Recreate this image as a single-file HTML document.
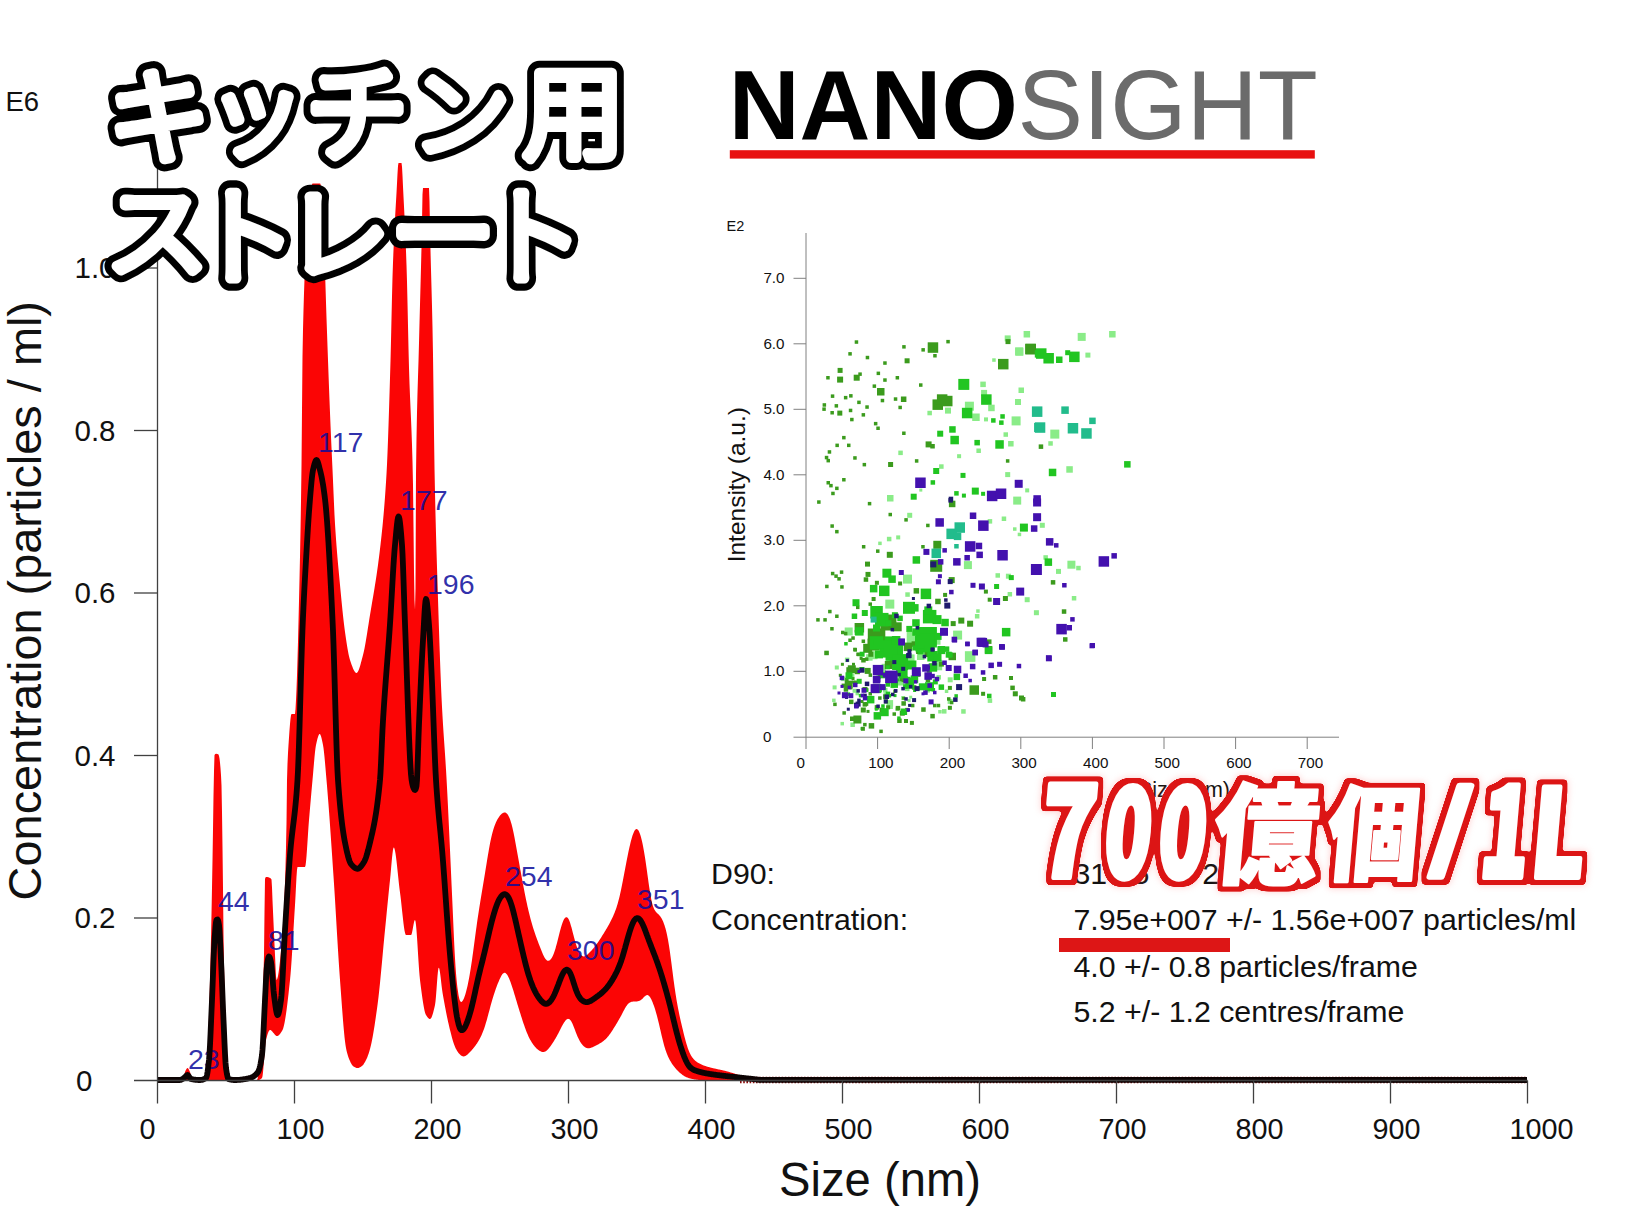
<!DOCTYPE html>
<html lang="ja"><head><meta charset="utf-8"><title>NANOSIGHT</title>
<style>
html,body{margin:0;padding:0;background:#fff;}
body{width:1630px;height:1224px;overflow:hidden;}
svg{display:block}
text{font-family:"Liberation Sans","Noto Sans CJK JP",sans-serif;}
.jp{font-family:"Noto Sans CJK JP","Liberation Sans",sans-serif;}
.tk{font-size:28.8px;fill:#111}
.tky{font-size:29.5px;fill:#111}
.itk{font-size:15.2px;fill:#111}
.pk{font-size:28.5px;fill:#0c0c9c;fill-opacity:.86}
.st{font-size:30.3px;fill:#111}
</style></head><body>
<svg width="1630" height="1224" viewBox="0 0 1630 1224">
<rect width="1630" height="1224" fill="#fff"/>

<g id="main">
<polygon points="157.0,1080.0 157.5,1080.0 158.0,1080.0 158.5,1080.0 159.0,1080.0 159.5,1080.0 160.0,1080.0 160.5,1080.0 161.0,1080.0 161.5,1080.0 162.0,1080.0 162.5,1080.0 163.0,1080.0 163.5,1080.0 164.0,1080.0 164.5,1080.0 165.0,1080.0 165.5,1080.0 166.0,1080.0 166.5,1080.0 167.0,1080.0 167.5,1080.0 168.0,1080.0 168.5,1080.0 169.0,1080.0 169.5,1080.0 170.0,1080.0 170.5,1080.0 171.0,1080.0 171.5,1080.0 172.0,1080.0 172.5,1080.0 173.0,1080.0 173.5,1080.0 174.0,1080.0 174.5,1080.0 175.0,1080.0 175.5,1080.0 176.0,1080.0 176.5,1080.0 177.0,1080.0 177.5,1080.0 178.0,1080.0 178.5,1080.0 179.0,1080.0 179.5,1080.0 180.0,1080.0 180.5,1080.0 181.0,1080.0 181.5,1080.0 182.0,1080.0 182.5,1080.0 183.0,1080.0 183.5,1079.0 184.0,1076.6 184.5,1073.9 185.0,1072.0 185.5,1070.8 186.0,1069.8 186.5,1068.9 187.0,1068.2 187.5,1068.0 188.0,1068.2 188.5,1068.9 189.0,1069.8 189.5,1070.9 190.0,1072.0 190.5,1073.7 191.0,1076.0 191.5,1078.1 192.0,1079.0 192.5,1079.1 193.0,1079.2 193.5,1079.3 194.0,1079.3 194.5,1079.4 195.0,1079.5 195.5,1079.5 196.0,1079.6 196.5,1079.7 197.0,1079.7 197.5,1079.7 198.0,1079.8 198.5,1079.8 199.0,1079.9 199.5,1079.9 200.0,1079.9 200.5,1079.9 201.0,1079.9 201.5,1080.0 202.0,1080.0 202.5,1080.0 203.0,1080.0 203.5,1080.0 204.0,1080.0 204.5,1080.0 205.0,1080.0 205.5,1079.6 206.0,1078.7 206.5,1077.1 207.0,1071.4 207.5,1061.5 208.0,1048.4 208.5,1032.8 209.0,1015.6 209.5,997.7 210.0,980.0 210.5,960.9 211.0,938.7 211.5,914.1 212.0,887.8 212.5,860.5 213.0,829.4 213.5,795.6 214.0,771.4 214.5,755.2 215.0,754.2 215.5,753.9 216.0,753.8 216.5,753.8 217.0,753.9 217.5,754.0 218.0,754.3 218.5,754.6 219.0,755.9 219.5,758.6 220.0,762.8 220.5,768.3 221.0,775.2 221.5,785.4 222.0,812.4 222.5,848.0 223.0,888.6 223.5,934.7 224.0,965.0 224.5,989.3 225.0,1012.0 225.5,1032.4 226.0,1049.8 226.5,1063.6 227.0,1073.2 227.5,1077.7 228.0,1078.6 228.5,1079.2 229.0,1079.6 229.5,1079.9 230.0,1080.0 230.5,1080.0 231.0,1080.0 231.5,1080.0 232.0,1080.0 232.5,1080.0 233.0,1080.0 233.5,1080.0 234.0,1080.0 234.5,1080.0 235.0,1080.0 235.5,1080.0 236.0,1080.0 236.5,1080.0 237.0,1080.0 237.5,1080.0 238.0,1080.0 238.5,1080.0 239.0,1080.0 239.5,1080.0 240.0,1080.0 240.5,1080.0 241.0,1080.0 241.5,1080.0 242.0,1080.0 242.5,1080.0 243.0,1080.0 243.5,1080.0 244.0,1080.0 244.5,1080.0 245.0,1080.0 245.5,1080.0 246.0,1080.0 246.5,1080.0 247.0,1080.0 247.5,1080.0 248.0,1080.0 248.5,1080.0 249.0,1080.0 249.5,1080.0 250.0,1080.0 250.5,1080.0 251.0,1080.0 251.5,1080.0 252.0,1080.0 252.5,1080.0 253.0,1080.0 253.5,1080.0 254.0,1080.0 254.5,1080.0 255.0,1080.0 255.5,1080.0 256.0,1080.0 256.5,1080.0 257.0,1080.0 257.5,1079.0 258.0,1076.2 258.5,1072.1 259.0,1066.9 259.5,1061.1 260.0,1055.0 260.5,1048.3 261.0,1040.4 261.5,1030.9 262.0,1019.8 262.5,1006.9 263.0,991.9 263.5,974.6 264.0,955.0 264.5,912.3 265.0,879.0 265.5,877.5 266.0,877.0 266.5,877.0 267.0,877.0 267.5,877.1 268.0,877.2 268.5,877.3 269.0,877.5 269.5,877.7 270.0,878.0 270.5,878.3 271.0,878.7 271.5,879.4 272.0,887.6 272.5,900.4 273.0,911.4 273.5,922.5 274.0,933.7 274.5,944.7 275.0,955.0 275.5,966.3 276.0,976.6 276.5,980.0 277.0,979.4 277.5,978.0 278.0,975.9 278.5,973.0 279.0,969.6 279.5,965.6 280.0,961.0 280.5,956.0 281.0,950.6 281.5,944.9 282.0,938.8 282.5,932.6 283.0,925.9 283.5,918.0 284.0,908.4 284.5,896.8 285.0,883.0 285.5,866.7 286.0,847.6 286.5,823.6 287.0,780.0 287.5,763.8 288.0,753.0 288.5,745.0 289.0,737.5 289.5,730.3 290.0,723.9 290.5,718.7 291.0,715.3 291.5,714.0 292.0,714.0 292.5,714.0 293.0,714.0 293.5,714.0 294.0,714.0 294.5,714.0 295.0,714.0 295.5,709.3 296.0,700.0 296.5,689.2 297.0,675.5 297.5,659.4 298.0,641.4 298.5,621.8 299.0,601.1 299.5,579.7 300.0,556.8 300.5,531.0 301.0,501.3 301.5,465.9 302.0,410.4 302.5,356.2 303.0,329.6 303.5,309.9 304.0,293.3 304.5,279.3 305.0,267.6 305.5,257.6 306.0,249.1 306.5,241.5 307.0,234.3 307.5,227.2 308.0,220.4 308.5,213.9 309.0,207.9 309.5,202.3 310.0,197.3 310.5,192.9 311.0,189.3 311.5,186.5 312.0,184.5 312.5,183.6 313.0,183.5 313.5,183.5 314.0,183.5 314.5,183.5 315.0,183.5 315.5,183.5 316.0,183.5 316.5,183.5 317.0,183.5 317.5,183.5 318.0,183.5 318.5,183.5 319.0,183.5 319.5,183.5 320.0,183.5 320.5,184.1 321.0,187.5 321.5,193.5 322.0,201.5 322.5,210.9 323.0,221.4 323.5,232.3 324.0,243.0 324.5,255.2 325.0,270.1 325.5,286.4 326.0,302.8 326.5,318.0 327.0,332.2 327.5,346.4 328.0,360.3 328.5,374.0 329.0,387.4 329.5,400.5 330.0,413.1 330.5,425.2 331.0,436.7 331.5,447.8 332.0,458.7 332.5,469.6 333.0,480.8 333.5,492.5 334.0,504.1 334.5,514.9 335.0,524.0 335.5,531.8 336.0,539.0 336.5,545.7 337.0,552.0 337.5,558.0 338.0,563.7 338.5,569.1 339.0,574.5 339.5,579.7 340.0,585.0 340.5,590.3 341.0,595.6 341.5,600.7 342.0,605.8 342.5,610.7 343.0,615.5 343.5,620.0 344.0,624.3 344.5,628.3 345.0,632.0 345.5,635.5 346.0,638.9 346.5,642.3 347.0,645.5 347.5,648.5 348.0,651.3 348.5,654.0 349.0,656.3 349.5,658.3 350.0,660.0 350.5,661.5 351.0,663.0 351.5,664.4 352.0,665.8 352.5,667.1 353.0,668.4 353.5,669.5 354.0,670.5 354.5,671.3 355.0,672.0 355.5,672.6 356.0,672.9 356.5,673.0 357.0,672.8 357.5,672.3 358.0,671.6 358.5,670.5 359.0,669.3 359.5,667.8 360.0,666.2 360.5,664.5 361.0,662.6 361.5,660.7 362.0,658.8 362.5,656.9 363.0,655.0 363.5,653.0 364.0,650.8 364.5,648.4 365.0,645.8 365.5,643.0 366.0,640.1 366.5,637.1 367.0,634.0 367.5,630.8 368.0,627.6 368.5,624.4 369.0,621.2 369.5,618.1 370.0,615.0 370.5,612.0 371.0,609.0 371.5,606.0 372.0,603.1 372.5,600.1 373.0,597.2 373.5,594.2 374.0,591.2 374.5,588.2 375.0,585.1 375.5,581.9 376.0,578.7 376.5,575.4 377.0,572.0 377.5,568.5 378.0,564.9 378.5,561.1 379.0,557.2 379.5,553.2 380.0,549.0 380.5,544.7 381.0,540.3 381.5,535.8 382.0,531.1 382.5,526.2 383.0,521.0 383.5,515.5 384.0,509.7 384.5,503.5 385.0,496.9 385.5,489.8 386.0,482.2 386.5,474.0 387.0,464.5 387.5,453.1 388.0,440.1 388.5,425.8 389.0,410.5 389.5,394.5 390.0,378.0 390.5,361.0 391.0,340.7 391.5,318.4 392.0,296.5 392.5,277.3 393.0,262.6 393.5,250.1 394.0,238.9 394.5,228.6 395.0,219.1 395.5,210.1 396.0,201.5 396.5,193.0 397.0,183.5 397.5,173.8 398.0,166.1 398.5,163.0 399.0,163.0 399.5,163.0 400.0,163.0 400.5,163.0 401.0,163.0 401.5,163.0 402.0,166.8 402.5,175.8 403.0,186.8 403.5,196.8 404.0,206.4 404.5,216.5 405.0,227.1 405.5,238.6 406.0,251.2 406.5,265.0 407.0,281.8 407.5,303.0 408.0,326.1 408.5,348.6 409.0,368.0 409.5,383.4 410.0,396.2 410.5,407.7 411.0,419.0 411.5,431.0 412.0,444.9 412.5,461.9 413.0,485.0 413.5,527.0 414.0,572.4 414.5,600.0 415.0,609.8 415.5,588.0 416.0,474.0 416.5,438.5 417.0,412.5 417.5,392.9 418.0,376.8 418.5,361.2 419.0,343.0 419.5,323.3 420.0,304.5 420.5,286.1 421.0,267.2 421.5,247.2 422.0,221.2 422.5,194.2 423.0,188.0 423.5,188.0 424.0,188.0 424.5,188.0 425.0,188.0 425.5,188.0 426.0,188.0 426.5,188.0 427.0,188.0 427.5,188.0 428.0,188.0 428.5,188.0 429.0,188.0 429.5,201.3 430.0,228.2 430.5,251.0 431.0,269.7 431.5,287.7 432.0,306.6 432.5,328.1 433.0,354.8 433.5,392.3 434.0,433.5 434.5,468.6 435.0,493.2 435.5,514.7 436.0,533.9 436.5,551.3 437.0,567.6 437.5,583.3 438.0,599.0 438.5,614.8 439.0,630.2 439.5,645.2 440.0,659.6 440.5,673.1 441.0,685.6 441.5,696.9 442.0,707.0 442.5,716.1 443.0,724.4 443.5,732.2 444.0,739.6 444.5,746.8 445.0,754.1 445.5,761.6 446.0,769.6 446.5,778.2 447.0,787.4 447.5,797.1 448.0,807.1 448.5,817.5 449.0,828.2 449.5,839.0 450.0,850.0 450.5,861.0 451.0,872.1 451.5,883.3 452.0,894.3 452.5,905.3 453.0,916.5 453.5,928.0 454.0,939.1 454.5,949.4 455.0,958.6 455.5,966.6 456.0,973.2 456.5,979.0 457.0,984.0 457.5,988.2 458.0,991.6 458.5,994.9 459.0,997.5 459.5,999.4 460.0,1000.7 460.5,1001.5 461.0,1001.9 461.5,1001.9 462.0,1001.6 462.5,1001.1 463.0,1000.3 463.5,999.3 464.0,998.2 464.5,996.8 465.0,995.4 465.5,993.8 466.0,992.0 466.5,990.1 467.0,988.1 467.5,985.9 468.0,983.6 468.5,981.1 469.0,978.5 469.5,975.7 470.0,972.8 470.5,969.8 471.0,966.6 471.5,963.3 472.0,959.9 472.5,956.3 473.0,952.7 473.5,949.0 474.0,945.3 474.5,941.5 475.0,937.8 475.5,934.0 476.0,930.3 476.5,926.7 477.0,923.1 477.5,919.6 478.0,916.2 478.5,912.9 479.0,909.7 479.5,906.5 480.0,903.4 480.5,900.3 481.0,897.3 481.5,894.3 482.0,891.3 482.5,888.3 483.0,885.3 483.5,882.3 484.0,879.3 484.5,876.3 485.0,873.2 485.5,870.1 486.0,867.0 486.5,863.9 487.0,860.8 487.5,857.8 488.0,854.8 488.5,851.9 489.0,849.0 489.5,846.3 490.0,843.6 490.5,841.1 491.0,838.7 491.5,836.5 492.0,834.4 492.5,832.5 493.0,830.7 493.5,829.0 494.0,827.5 494.5,826.0 495.0,824.7 495.5,823.4 496.0,822.3 496.5,821.2 497.0,820.2 497.5,819.3 498.0,818.5 498.5,817.7 499.0,816.9 499.5,816.2 500.0,815.6 500.5,815.0 501.0,814.5 501.5,814.0 502.0,813.6 502.5,813.2 503.0,812.9 503.5,812.7 504.0,812.6 504.5,812.5 505.0,812.5 505.5,812.6 506.0,812.9 506.5,813.2 507.0,813.7 507.5,814.3 508.0,815.0 508.5,815.9 509.0,816.9 509.5,818.1 510.0,819.3 510.5,820.8 511.0,822.4 511.5,824.1 512.0,826.0 512.5,828.1 513.0,830.3 513.5,832.6 514.0,835.1 514.5,837.6 515.0,840.2 515.5,842.9 516.0,845.7 516.5,848.4 517.0,851.2 517.5,854.0 518.0,856.8 518.5,859.6 519.0,862.3 519.5,865.1 520.0,867.9 520.5,870.6 521.0,873.3 521.5,876.0 522.0,878.7 522.5,881.4 523.0,884.1 523.5,886.7 524.0,889.3 524.5,891.9 525.0,894.4 525.5,896.9 526.0,899.4 526.5,901.8 527.0,904.1 527.5,906.4 528.0,908.6 528.5,910.7 529.0,912.8 529.5,914.8 530.0,916.8 530.5,918.7 531.0,920.5 531.5,922.3 532.0,924.1 532.5,925.7 533.0,927.4 533.5,929.0 534.0,930.5 534.5,932.0 535.0,933.5 535.5,935.0 536.0,936.4 536.5,937.8 537.0,939.2 537.5,940.5 538.0,941.8 538.5,943.2 539.0,944.5 539.5,945.8 540.0,947.1 540.5,948.3 541.0,949.6 541.5,950.8 542.0,952.1 542.5,953.2 543.0,954.4 543.5,955.5 544.0,956.5 544.5,957.4 545.0,958.2 545.5,959.0 546.0,959.6 546.5,960.1 547.0,960.4 547.5,960.7 548.0,960.8 548.5,960.8 549.0,960.6 549.5,960.4 550.0,960.0 550.5,959.5 551.0,958.9 551.5,958.2 552.0,957.4 552.5,956.4 553.0,955.4 553.5,954.2 554.0,952.9 554.5,951.5 555.0,950.0 555.5,948.4 556.0,946.6 556.5,944.8 557.0,942.9 557.5,940.9 558.0,938.9 558.5,936.9 559.0,934.9 559.5,933.0 560.0,931.1 560.5,929.2 561.0,927.4 561.5,925.8 562.0,924.2 562.5,922.8 563.0,921.5 563.5,920.3 564.0,919.3 564.5,918.5 565.0,917.9 565.5,917.5 566.0,917.2 566.5,917.2 567.0,917.3 567.5,917.7 568.0,918.3 568.5,919.1 569.0,920.1 569.5,921.3 570.0,922.6 570.5,924.2 571.0,925.9 571.5,927.6 572.0,929.5 572.5,931.4 573.0,933.4 573.5,935.3 574.0,937.2 574.5,939.1 575.0,940.9 575.5,942.6 576.0,944.2 576.5,945.8 577.0,947.2 577.5,948.5 578.0,949.7 578.5,950.9 579.0,951.9 579.5,952.8 580.0,953.6 580.5,954.3 581.0,954.9 581.5,955.4 582.0,955.8 582.5,956.1 583.0,956.3 583.5,956.4 584.0,956.4 584.5,956.3 585.0,956.1 585.5,955.9 586.0,955.6 586.5,955.3 587.0,954.9 587.5,954.5 588.0,954.1 588.5,953.6 589.0,953.1 589.5,952.6 590.0,952.1 590.5,951.6 591.0,951.0 591.5,950.5 592.0,949.9 592.5,949.3 593.0,948.7 593.5,948.2 594.0,947.5 594.5,946.9 595.0,946.3 595.5,945.6 596.0,945.0 596.5,944.3 597.0,943.6 597.5,942.9 598.0,942.2 598.5,941.5 599.0,940.7 599.5,940.0 600.0,939.2 600.5,938.4 601.0,937.7 601.5,936.9 602.0,936.1 602.5,935.3 603.0,934.5 603.5,933.7 604.0,932.9 604.5,932.1 605.0,931.2 605.5,930.4 606.0,929.6 606.5,928.7 607.0,927.9 607.5,927.0 608.0,926.2 608.5,925.3 609.0,924.4 609.5,923.5 610.0,922.5 610.5,921.6 611.0,920.6 611.5,919.6 612.0,918.6 612.5,917.5 613.0,916.4 613.5,915.3 614.0,914.1 614.5,912.9 615.0,911.6 615.5,910.3 616.0,908.9 616.5,907.4 617.0,905.8 617.5,904.2 618.0,902.5 618.5,900.6 619.0,898.7 619.5,896.7 620.0,894.5 620.5,892.3 621.0,890.0 621.5,887.6 622.0,885.1 622.5,882.6 623.0,880.0 623.5,877.3 624.0,874.7 624.5,872.1 625.0,869.4 625.5,866.8 626.0,864.2 626.5,861.6 627.0,859.0 627.5,856.5 628.0,854.0 628.5,851.6 629.0,849.3 629.5,847.0 630.0,844.9 630.5,842.8 631.0,840.8 631.5,838.9 632.0,837.2 632.5,835.6 633.0,834.2 633.5,832.9 634.0,831.8 634.5,830.8 635.0,830.1 635.5,829.5 636.0,829.2 636.5,829.0 637.0,829.1 637.5,829.4 638.0,829.9 638.5,830.6 639.0,831.5 639.5,832.7 640.0,834.0 640.5,835.6 641.0,837.3 641.5,839.2 642.0,841.3 642.5,843.6 643.0,846.0 643.5,848.7 644.0,851.5 644.5,854.4 645.0,857.6 645.5,860.8 646.0,864.2 646.5,867.8 647.0,871.3 647.5,875.0 648.0,878.6 648.5,882.2 649.0,885.7 649.5,889.1 650.0,892.3 650.5,895.3 651.0,898.0 651.5,900.5 652.0,902.7 652.5,904.6 653.0,906.2 653.5,907.6 654.0,908.8 654.5,909.8 655.0,910.6 655.5,911.3 656.0,911.9 656.5,912.4 657.0,912.9 657.5,913.4 658.0,913.9 658.5,914.3 659.0,914.9 659.5,915.4 660.0,916.0 660.5,916.7 661.0,917.5 661.5,918.3 662.0,919.2 662.5,920.2 663.0,921.3 663.5,922.6 664.0,923.9 664.5,925.3 665.0,926.9 665.5,928.6 666.0,930.5 666.5,932.5 667.0,934.7 667.5,937.2 668.0,939.8 668.5,942.7 669.0,945.8 669.5,949.1 670.0,952.5 670.5,956.2 671.0,960.0 671.5,963.8 672.0,967.7 672.5,971.6 673.0,975.5 673.5,979.4 674.0,983.1 674.5,986.7 675.0,990.1 675.5,993.5 676.0,996.6 676.5,999.7 677.0,1002.6 677.5,1005.3 678.0,1008.0 678.5,1010.5 679.0,1013.0 679.5,1015.4 680.0,1017.7 680.5,1020.0 681.0,1022.2 681.5,1024.3 682.0,1026.5 682.5,1028.6 683.0,1030.6 683.5,1032.7 684.0,1034.7 684.5,1036.7 685.0,1038.6 685.5,1040.4 686.0,1042.2 686.5,1044.0 687.0,1045.6 687.5,1047.2 688.0,1048.7 688.5,1050.0 689.0,1051.3 689.5,1052.5 690.0,1053.6 690.5,1054.5 691.0,1055.4 691.5,1056.2 692.0,1057.0 692.5,1057.7 693.0,1058.3 693.5,1058.9 694.0,1059.4 694.5,1059.9 695.0,1060.4 695.5,1060.9 696.0,1061.3 696.5,1061.7 697.0,1062.0 697.5,1062.4 698.0,1062.7 698.5,1063.0 699.0,1063.3 699.5,1063.6 700.0,1063.8 700.5,1064.1 701.0,1064.3 701.5,1064.5 702.0,1064.8 702.5,1065.0 703.0,1065.2 703.5,1065.4 704.0,1065.5 704.5,1065.7 705.0,1065.9 705.5,1066.1 706.0,1066.2 706.5,1066.4 707.0,1066.6 707.5,1066.7 708.0,1066.9 708.5,1067.0 709.0,1067.1 709.5,1067.3 710.0,1067.4 710.5,1067.5 711.0,1067.7 711.5,1067.8 712.0,1067.9 712.5,1068.0 713.0,1068.2 713.5,1068.3 714.0,1068.4 714.5,1068.5 715.0,1068.6 715.5,1068.7 716.0,1068.8 716.5,1068.9 717.0,1069.0 717.5,1069.2 718.0,1069.3 718.5,1069.4 719.0,1069.5 719.5,1069.6 720.0,1069.7 720.5,1069.8 721.0,1069.9 721.5,1070.0 722.0,1070.1 722.5,1070.2 723.0,1070.4 723.5,1070.5 724.0,1070.6 724.5,1070.7 725.0,1070.8 725.5,1071.0 726.0,1071.1 726.5,1071.2 727.0,1071.4 727.5,1071.5 728.0,1071.6 728.5,1071.8 729.0,1071.9 729.5,1072.1 730.0,1072.2 730.5,1072.4 731.0,1072.5 731.5,1072.7 732.0,1072.8 732.5,1073.0 733.0,1073.1 733.5,1073.3 734.0,1073.5 734.5,1073.6 735.0,1073.8 735.5,1074.0 736.0,1074.1 736.5,1074.3 737.0,1074.5 737.5,1074.6 738.0,1074.8 738.5,1075.0 739.0,1075.1 739.5,1075.3 740.0,1075.4 740.5,1075.6 741.0,1075.8 741.5,1075.9 742.0,1076.1 742.5,1076.2 743.0,1076.4 743.5,1076.6 744.0,1076.7 744.5,1076.9 745.0,1077.0 745.5,1077.1 746.0,1077.3 746.5,1077.4 747.0,1077.6 747.5,1077.7 748.0,1077.8 748.5,1078.0 749.0,1078.1 749.5,1078.2 750.0,1078.3 750.5,1078.4 751.0,1078.5 751.5,1078.7 752.0,1078.8 752.5,1078.9 753.0,1079.0 753.5,1079.0 754.0,1079.1 754.5,1079.2 755.0,1079.3 755.5,1079.4 756.0,1079.4 756.5,1079.5 757.0,1079.6 757.5,1079.6 758.0,1079.7 758.5,1079.8 759.0,1079.8 759.5,1079.8 760.0,1079.9 760.0,1080.0 759.5,1080.0 759.0,1080.0 758.5,1080.0 758.0,1080.0 757.5,1080.0 757.0,1080.0 756.5,1080.0 756.0,1080.0 755.5,1080.0 755.0,1080.0 754.5,1080.0 754.0,1080.0 753.5,1080.0 753.0,1080.0 752.5,1080.0 752.0,1080.0 751.5,1080.0 751.0,1080.0 750.5,1080.0 750.0,1080.0 749.5,1080.0 749.0,1080.0 748.5,1080.0 748.0,1080.0 747.5,1080.0 747.0,1080.0 746.5,1080.0 746.0,1080.0 745.5,1080.0 745.0,1080.0 744.5,1080.0 744.0,1080.0 743.5,1080.0 743.0,1080.0 742.5,1080.0 742.0,1080.0 741.5,1080.0 741.0,1080.0 740.5,1080.0 740.0,1080.0 739.5,1080.0 739.0,1080.0 738.5,1080.0 738.0,1080.0 737.5,1080.0 737.0,1080.0 736.5,1080.0 736.0,1080.0 735.5,1080.0 735.0,1080.0 734.5,1080.0 734.0,1080.0 733.5,1080.0 733.0,1080.0 732.5,1080.0 732.0,1080.0 731.5,1080.0 731.0,1080.0 730.5,1080.0 730.0,1080.0 729.5,1080.0 729.0,1080.0 728.5,1080.0 728.0,1080.0 727.5,1080.0 727.0,1080.0 726.5,1080.0 726.0,1080.0 725.5,1080.0 725.0,1080.0 724.5,1080.0 724.0,1080.0 723.5,1080.0 723.0,1080.0 722.5,1080.0 722.0,1080.0 721.5,1080.0 721.0,1080.0 720.5,1080.0 720.0,1080.0 719.5,1080.0 719.0,1080.0 718.5,1080.0 718.0,1080.0 717.5,1080.0 717.0,1080.0 716.5,1080.0 716.0,1080.0 715.5,1080.0 715.0,1080.0 714.5,1080.0 714.0,1080.0 713.5,1080.0 713.0,1080.0 712.5,1080.0 712.0,1080.0 711.5,1080.0 711.0,1080.0 710.5,1080.0 710.0,1080.0 709.5,1080.0 709.0,1080.0 708.5,1080.0 708.0,1080.0 707.5,1080.0 707.0,1080.0 706.5,1080.0 706.0,1080.0 705.5,1080.0 705.0,1080.0 704.5,1080.0 704.0,1080.0 703.5,1080.0 703.0,1080.0 702.5,1080.0 702.0,1080.0 701.5,1080.0 701.0,1080.0 700.5,1080.0 700.0,1079.9 699.5,1079.9 699.0,1079.9 698.5,1079.9 698.0,1079.8 697.5,1079.8 697.0,1079.7 696.5,1079.7 696.0,1079.6 695.5,1079.6 695.0,1079.5 694.5,1079.4 694.0,1079.3 693.5,1079.2 693.0,1079.1 692.5,1079.0 692.0,1078.9 691.5,1078.8 691.0,1078.7 690.5,1078.6 690.0,1078.4 689.5,1078.3 689.0,1078.2 688.5,1078.0 688.0,1077.8 687.5,1077.6 687.0,1077.4 686.5,1077.2 686.0,1077.0 685.5,1076.7 685.0,1076.5 684.5,1076.2 684.0,1075.9 683.5,1075.6 683.0,1075.2 682.5,1074.9 682.0,1074.5 681.5,1074.1 681.0,1073.7 680.5,1073.3 680.0,1072.9 679.5,1072.4 679.0,1072.0 678.5,1071.5 678.0,1071.0 677.5,1070.5 677.0,1070.0 676.5,1069.4 676.0,1068.9 675.5,1068.3 675.0,1067.7 674.5,1067.1 674.0,1066.5 673.5,1065.8 673.0,1065.2 672.5,1064.4 672.0,1063.7 671.5,1062.9 671.0,1062.1 670.5,1061.3 670.0,1060.4 669.5,1059.4 669.0,1058.5 668.5,1057.4 668.0,1056.4 667.5,1055.2 667.0,1054.0 666.5,1052.7 666.0,1051.3 665.5,1049.9 665.0,1048.3 664.5,1046.7 664.0,1044.9 663.5,1043.1 663.0,1041.1 662.5,1039.1 662.0,1037.0 661.5,1034.9 661.0,1032.7 660.5,1030.5 660.0,1028.4 659.5,1026.2 659.0,1024.1 658.5,1022.0 658.0,1019.9 657.5,1018.0 657.0,1016.1 656.5,1014.2 656.0,1012.5 655.5,1010.8 655.0,1009.1 654.5,1007.6 654.0,1006.1 653.5,1004.7 653.0,1003.4 652.5,1002.1 652.0,1000.9 651.5,999.8 651.0,998.8 650.5,997.9 650.0,997.1 649.5,996.5 649.0,995.9 648.5,995.5 648.0,995.3 647.5,995.1 647.0,995.1 646.5,995.2 646.0,995.5 645.5,995.8 645.0,996.2 644.5,996.6 644.0,997.1 643.5,997.6 643.0,998.2 642.5,998.7 642.0,999.1 641.5,999.6 641.0,999.9 640.5,1000.3 640.0,1000.6 639.5,1000.8 639.0,1001.0 638.5,1001.1 638.0,1001.2 637.5,1001.3 637.0,1001.4 636.5,1001.4 636.0,1001.5 635.5,1001.5 635.0,1001.5 634.5,1001.5 634.0,1001.5 633.5,1001.6 633.0,1001.6 632.5,1001.7 632.0,1001.7 631.5,1001.8 631.0,1002.0 630.5,1002.2 630.0,1002.4 629.5,1002.7 629.0,1003.1 628.5,1003.5 628.0,1004.0 627.5,1004.5 627.0,1005.2 626.5,1005.9 626.0,1006.6 625.5,1007.5 625.0,1008.3 624.5,1009.2 624.0,1010.2 623.5,1011.1 623.0,1012.1 622.5,1013.0 622.0,1014.0 621.5,1014.9 621.0,1015.9 620.5,1016.8 620.0,1017.7 619.5,1018.6 619.0,1019.5 618.5,1020.3 618.0,1021.2 617.5,1022.0 617.0,1022.9 616.5,1023.7 616.0,1024.5 615.5,1025.4 615.0,1026.2 614.5,1027.0 614.0,1027.8 613.5,1028.6 613.0,1029.4 612.5,1030.2 612.0,1031.0 611.5,1031.7 611.0,1032.5 610.5,1033.2 610.0,1033.9 609.5,1034.6 609.0,1035.2 608.5,1035.9 608.0,1036.5 607.5,1037.1 607.0,1037.7 606.5,1038.2 606.0,1038.7 605.5,1039.2 605.0,1039.7 604.5,1040.1 604.0,1040.5 603.5,1040.9 603.0,1041.3 602.5,1041.7 602.0,1042.0 601.5,1042.4 601.0,1042.7 600.5,1043.0 600.0,1043.3 599.5,1043.6 599.0,1043.9 598.5,1044.2 598.0,1044.4 597.5,1044.7 597.0,1045.0 596.5,1045.2 596.0,1045.5 595.5,1045.8 595.0,1046.0 594.5,1046.3 594.0,1046.5 593.5,1046.8 593.0,1047.0 592.5,1047.2 592.0,1047.4 591.5,1047.6 591.0,1047.8 590.5,1048.0 590.0,1048.1 589.5,1048.2 589.0,1048.3 588.5,1048.3 588.0,1048.3 587.5,1048.2 587.0,1048.1 586.5,1047.9 586.0,1047.7 585.5,1047.5 585.0,1047.2 584.5,1046.8 584.0,1046.4 583.5,1045.9 583.0,1045.4 582.5,1044.9 582.0,1044.3 581.5,1043.7 581.0,1043.0 580.5,1042.2 580.0,1041.4 579.5,1040.5 579.0,1039.6 578.5,1038.6 578.0,1037.5 577.5,1036.4 577.0,1035.2 576.5,1033.9 576.0,1032.7 575.5,1031.4 575.0,1030.0 574.5,1028.7 574.0,1027.4 573.5,1026.2 573.0,1025.0 572.5,1023.8 572.0,1022.8 571.5,1021.8 571.0,1021.0 570.5,1020.3 570.0,1019.7 569.5,1019.3 569.0,1019.0 568.5,1018.9 568.0,1018.8 567.5,1019.0 567.0,1019.2 566.5,1019.6 566.0,1020.0 565.5,1020.6 565.0,1021.2 564.5,1021.9 564.0,1022.6 563.5,1023.4 563.0,1024.3 562.5,1025.2 562.0,1026.1 561.5,1027.0 561.0,1028.0 560.5,1029.0 560.0,1030.0 559.5,1030.9 559.0,1031.9 558.5,1032.9 558.0,1033.9 557.5,1034.8 557.0,1035.8 556.5,1036.7 556.0,1037.6 555.5,1038.5 555.0,1039.3 554.5,1040.1 554.0,1041.0 553.5,1041.8 553.0,1042.5 552.5,1043.3 552.0,1044.0 551.5,1044.8 551.0,1045.5 550.5,1046.2 550.0,1046.8 549.5,1047.5 549.0,1048.1 548.5,1048.7 548.0,1049.2 547.5,1049.8 547.0,1050.2 546.5,1050.7 546.0,1051.0 545.5,1051.4 545.0,1051.6 544.5,1051.8 544.0,1052.0 543.5,1052.0 543.0,1052.0 542.5,1052.0 542.0,1051.9 541.5,1051.8 541.0,1051.6 540.5,1051.3 540.0,1051.1 539.5,1050.8 539.0,1050.4 538.5,1050.1 538.0,1049.7 537.5,1049.3 537.0,1048.8 536.5,1048.4 536.0,1047.9 535.5,1047.3 535.0,1046.8 534.5,1046.2 534.0,1045.6 533.5,1044.9 533.0,1044.2 532.5,1043.5 532.0,1042.8 531.5,1042.0 531.0,1041.1 530.5,1040.3 530.0,1039.4 529.5,1038.4 529.0,1037.4 528.5,1036.4 528.0,1035.3 527.5,1034.1 527.0,1032.9 526.5,1031.7 526.0,1030.4 525.5,1029.1 525.0,1027.7 524.5,1026.3 524.0,1024.8 523.5,1023.4 523.0,1021.9 522.5,1020.4 522.0,1018.8 521.5,1017.3 521.0,1015.7 520.5,1014.1 520.0,1012.5 519.5,1010.9 519.0,1009.3 518.5,1007.7 518.0,1006.1 517.5,1004.4 517.0,1002.8 516.5,1001.1 516.0,999.4 515.5,997.8 515.0,996.1 514.5,994.4 514.0,992.8 513.5,991.1 513.0,989.5 512.5,988.0 512.0,986.4 511.5,984.9 511.0,983.5 510.5,982.1 510.0,980.8 509.5,979.5 509.0,978.3 508.5,977.2 508.0,976.2 507.5,975.3 507.0,974.6 506.5,973.9 506.0,973.4 505.5,973.0 505.0,972.8 504.5,972.8 504.0,972.9 503.5,973.2 503.0,973.6 502.5,974.1 502.0,974.8 501.5,975.6 501.0,976.5 500.5,977.4 500.0,978.4 499.5,979.5 499.0,980.7 498.5,981.9 498.0,983.1 497.5,984.3 497.0,985.6 496.5,987.0 496.0,988.3 495.5,989.8 495.0,991.2 494.5,992.7 494.0,994.2 493.5,995.8 493.0,997.4 492.5,999.1 492.0,1000.8 491.5,1002.5 491.0,1004.3 490.5,1006.1 490.0,1008.0 489.5,1009.9 489.0,1011.7 488.5,1013.6 488.0,1015.5 487.5,1017.3 487.0,1019.2 486.5,1020.9 486.0,1022.6 485.5,1024.3 485.0,1025.9 484.5,1027.4 484.0,1028.9 483.5,1030.3 483.0,1031.6 482.5,1032.8 482.0,1034.0 481.5,1035.2 481.0,1036.2 480.5,1037.3 480.0,1038.3 479.5,1039.2 479.0,1040.1 478.5,1041.0 478.0,1041.8 477.5,1042.6 477.0,1043.4 476.5,1044.1 476.0,1044.8 475.5,1045.5 475.0,1046.2 474.5,1046.8 474.0,1047.4 473.5,1048.1 473.0,1048.7 472.5,1049.2 472.0,1049.8 471.5,1050.4 471.0,1050.9 470.5,1051.5 470.0,1052.0 469.5,1052.5 469.0,1053.0 468.5,1053.5 468.0,1054.0 467.5,1054.5 467.0,1054.9 466.5,1055.3 466.0,1055.6 465.5,1055.9 465.0,1056.1 464.5,1056.3 464.0,1056.4 463.5,1056.4 463.0,1056.3 462.5,1056.2 462.0,1056.0 461.5,1055.8 461.0,1055.5 460.5,1055.1 460.0,1054.6 459.5,1054.1 459.0,1053.5 458.5,1052.9 458.0,1052.2 457.5,1051.5 457.0,1050.7 456.5,1049.8 456.0,1048.9 455.5,1047.9 455.0,1046.8 454.5,1045.6 454.0,1044.3 453.5,1042.8 453.0,1041.2 452.5,1039.5 452.0,1037.7 451.5,1035.8 451.0,1033.8 450.5,1031.8 450.0,1029.9 449.5,1027.9 449.0,1025.8 448.5,1023.6 448.0,1021.4 447.5,1019.1 447.0,1016.7 446.5,1014.2 446.0,1011.7 445.5,1009.1 445.0,1006.5 444.5,1003.8 444.0,1001.0 443.5,998.2 443.0,995.4 442.5,992.5 442.0,989.1 441.5,985.0 441.0,980.6 440.5,976.2 440.0,972.4 439.5,969.4 439.0,967.7 438.5,967.9 438.0,970.9 437.5,976.0 437.0,982.4 436.5,989.4 436.0,996.0 435.5,1001.5 435.0,1005.0 434.5,1007.2 434.0,1009.3 433.5,1011.3 433.0,1013.2 432.5,1014.8 432.0,1016.2 431.5,1017.4 431.0,1018.3 430.5,1018.8 430.0,1019.0 429.5,1018.9 429.0,1018.7 428.5,1018.3 428.0,1017.8 427.5,1017.2 427.0,1016.5 426.5,1015.8 426.0,1015.0 425.5,1013.9 425.0,1012.4 424.5,1010.4 424.0,1008.0 423.5,1005.3 423.0,1002.2 422.5,998.9 422.0,995.4 421.5,991.7 421.0,987.9 420.5,984.0 420.0,980.0 419.5,975.1 419.0,968.7 418.5,961.2 418.0,953.2 417.5,945.0 417.0,937.3 416.5,930.5 416.0,925.0 415.5,921.3 415.0,920.0 414.5,920.6 414.0,922.3 413.5,924.7 413.0,927.5 412.5,930.3 412.0,932.7 411.5,934.4 411.0,935.0 410.5,935.0 410.0,935.0 409.5,935.0 409.0,935.0 408.5,935.0 408.0,935.0 407.5,935.0 407.0,935.0 406.5,935.0 406.0,935.0 405.5,934.4 405.0,932.8 404.5,930.4 404.0,927.2 403.5,923.4 403.0,919.1 402.5,914.6 402.0,909.9 401.5,905.2 401.0,900.6 400.5,896.3 400.0,892.5 399.5,888.7 399.0,884.4 398.5,879.8 398.0,875.0 397.5,870.2 397.0,865.6 396.5,861.1 396.0,857.1 395.5,853.6 395.0,850.8 394.5,848.7 394.0,847.6 393.5,847.8 393.0,849.8 392.5,853.4 392.0,858.1 391.5,863.6 391.0,869.3 390.5,874.9 390.0,880.0 389.5,884.7 389.0,889.5 388.5,894.5 388.0,899.5 387.5,904.5 387.0,909.6 386.5,914.8 386.0,919.9 385.5,925.0 385.0,930.0 384.5,935.1 384.0,940.3 383.5,945.6 383.0,951.0 382.5,956.4 382.0,961.9 381.5,967.3 381.0,972.6 380.5,977.8 380.0,982.9 379.5,987.8 379.0,992.5 378.5,997.0 378.0,1001.1 377.5,1005.0 377.0,1008.7 376.5,1012.3 376.0,1015.8 375.5,1019.3 375.0,1022.6 374.5,1025.9 374.0,1029.0 373.5,1032.0 373.0,1034.9 372.5,1037.7 372.0,1040.3 371.5,1042.7 371.0,1045.0 370.5,1047.1 370.0,1049.0 369.5,1050.7 369.0,1052.4 368.5,1053.9 368.0,1055.3 367.5,1056.7 367.0,1057.9 366.5,1059.0 366.0,1060.0 365.5,1061.0 365.0,1061.9 364.5,1062.8 364.0,1063.6 363.5,1064.4 363.0,1065.0 362.5,1065.6 362.0,1066.0 361.5,1066.3 361.0,1066.7 360.5,1067.0 360.0,1067.3 359.5,1067.5 359.0,1067.7 358.5,1067.9 358.0,1068.0 357.5,1068.0 357.0,1068.0 356.5,1067.9 356.0,1067.7 355.5,1067.5 355.0,1067.3 354.5,1067.0 354.0,1066.7 353.5,1066.4 353.0,1066.0 352.5,1065.5 352.0,1064.9 351.5,1064.1 351.0,1063.2 350.5,1062.2 350.0,1061.1 349.5,1060.0 349.0,1058.8 348.5,1057.5 348.0,1056.0 347.5,1054.3 347.0,1052.5 346.5,1050.4 346.0,1048.0 345.5,1045.1 345.0,1041.3 344.5,1036.9 344.0,1031.8 343.5,1026.2 343.0,1020.2 342.5,1013.8 342.0,1007.2 341.5,1000.4 341.0,993.5 340.5,986.7 340.0,980.0 339.5,973.1 339.0,965.8 338.5,958.1 338.0,950.0 337.5,941.8 337.0,933.4 336.5,924.9 336.0,916.4 335.5,907.9 335.0,899.6 334.5,891.5 334.0,883.8 333.5,876.3 333.0,868.9 332.5,861.4 332.0,854.0 331.5,846.7 331.0,839.4 330.5,832.2 330.0,825.1 329.5,818.1 329.0,811.3 328.5,804.6 328.0,798.2 327.5,791.9 327.0,785.8 326.5,780.0 326.0,774.2 325.5,768.3 325.0,762.5 324.5,757.0 324.0,752.2 323.5,748.1 323.0,745.0 322.5,742.5 322.0,740.2 321.5,738.0 321.0,736.2 320.5,734.9 320.0,734.1 319.5,734.0 319.0,734.5 318.5,735.5 318.0,736.9 317.5,738.6 317.0,740.6 316.5,742.7 316.0,745.0 315.5,748.0 315.0,752.1 314.5,757.1 314.0,762.7 313.5,768.6 313.0,774.4 312.5,780.0 312.0,785.4 311.5,791.0 311.0,796.7 310.5,802.5 310.0,808.3 309.5,814.2 309.0,820.0 308.5,826.5 308.0,833.9 307.5,841.7 307.0,849.3 306.5,856.2 306.0,861.8 305.5,865.6 305.0,867.0 304.5,867.0 304.0,867.0 303.5,867.0 303.0,867.0 302.5,867.0 302.0,867.0 301.5,867.0 301.0,867.0 300.5,867.0 300.0,867.0 299.5,867.0 299.0,867.0 298.5,867.0 298.0,867.0 297.5,867.0 297.0,869.7 296.5,876.7 296.0,886.2 295.5,896.2 295.0,905.0 294.5,912.8 294.0,921.0 293.5,929.3 293.0,937.7 292.5,946.0 292.0,954.0 291.5,961.6 291.0,968.6 290.5,974.7 290.0,980.0 289.5,984.7 289.0,989.3 288.5,993.9 288.0,998.3 287.5,1002.5 287.0,1006.5 286.5,1010.4 286.0,1013.9 285.5,1017.3 285.0,1020.3 284.5,1023.0 284.0,1025.3 283.5,1027.3 283.0,1028.9 282.5,1030.0 282.0,1030.9 281.5,1031.7 281.0,1032.5 280.5,1033.3 280.0,1033.9 279.5,1034.5 279.0,1035.0 278.5,1035.4 278.0,1035.7 277.5,1035.9 277.0,1036.0 276.5,1035.9 276.0,1035.7 275.5,1035.3 275.0,1034.8 274.5,1034.3 274.0,1033.6 273.5,1033.0 273.0,1032.4 272.5,1031.7 272.0,1031.2 271.5,1030.7 271.0,1030.3 270.5,1030.1 270.0,1030.0 269.5,1030.2 269.0,1030.8 268.5,1031.8 268.0,1033.0 267.5,1034.5 267.0,1036.2 266.5,1038.1 266.0,1040.0 265.5,1043.1 265.0,1048.0 264.5,1054.0 264.0,1060.5 263.5,1066.8 263.0,1072.3 262.5,1076.2 262.0,1078.0 261.5,1078.4 261.0,1078.8 260.5,1079.2 260.0,1079.5 259.5,1079.7 259.0,1079.9 258.5,1080.0 258.0,1080.0 257.5,1080.0 257.0,1080.0 256.5,1080.0 256.0,1080.0 255.5,1080.0 255.0,1080.0 254.5,1080.0 254.0,1080.0 253.5,1080.0 253.0,1080.0 252.5,1080.0 252.0,1080.0 251.5,1080.0 251.0,1080.0 250.5,1080.0 250.0,1080.0 249.5,1080.0 249.0,1080.0 248.5,1080.0 248.0,1080.0 247.5,1080.0 247.0,1080.0 246.5,1080.0 246.0,1080.0 245.5,1080.0 245.0,1080.0 244.5,1080.0 244.0,1080.0 243.5,1080.0 243.0,1080.0 242.5,1080.0 242.0,1080.0 241.5,1080.0 241.0,1080.0 240.5,1080.0 240.0,1080.0 239.5,1080.0 239.0,1080.0 238.5,1080.0 238.0,1080.0 237.5,1080.0 237.0,1080.0 236.5,1080.0 236.0,1080.0 235.5,1080.0 235.0,1080.0 234.5,1080.0 234.0,1080.0 233.5,1080.0 233.0,1080.0 232.5,1080.0 232.0,1080.0 231.5,1080.0 231.0,1080.0 230.5,1080.0 230.0,1080.0 229.5,1080.0 229.0,1080.0 228.5,1080.0 228.0,1080.0 227.5,1080.0 227.0,1080.0 226.5,1080.0 226.0,1080.0 225.5,1080.0 225.0,1080.0 224.5,1080.0 224.0,1080.0 223.5,1080.0 223.0,1080.0 222.5,1080.0 222.0,1080.0 221.5,1080.0 221.0,1080.0 220.5,1080.0 220.0,1080.0 219.5,1080.0 219.0,1080.0 218.5,1080.0 218.0,1080.0 217.5,1080.0 217.0,1080.0 216.5,1080.0 216.0,1080.0 215.5,1080.0 215.0,1080.0 214.5,1080.0 214.0,1080.0 213.5,1080.0 213.0,1080.0 212.5,1080.0 212.0,1080.0 211.5,1080.0 211.0,1080.0 210.5,1080.0 210.0,1080.0 209.5,1080.0 209.0,1080.0 208.5,1080.0 208.0,1080.0 207.5,1080.0 207.0,1080.0 206.5,1080.0 206.0,1080.0 205.5,1080.0 205.0,1080.0 204.5,1080.0 204.0,1080.0 203.5,1080.0 203.0,1080.0 202.5,1080.0 202.0,1080.0 201.5,1080.0 201.0,1080.0 200.5,1080.0 200.0,1080.0 199.5,1080.0 199.0,1080.0 198.5,1080.0 198.0,1080.0 197.5,1080.0 197.0,1080.0 196.5,1080.0 196.0,1080.0 195.5,1080.0 195.0,1080.0 194.5,1080.0 194.0,1080.0 193.5,1080.0 193.0,1080.0 192.5,1080.0 192.0,1080.0 191.5,1080.0 191.0,1080.0 190.5,1080.0 190.0,1080.0 189.5,1080.0 189.0,1080.0 188.5,1080.0 188.0,1080.0 187.5,1080.0 187.0,1080.0 186.5,1080.0 186.0,1080.0 185.5,1080.0 185.0,1080.0 184.5,1080.0 184.0,1080.0 183.5,1080.0 183.0,1080.0 182.5,1080.0 182.0,1080.0 181.5,1080.0 181.0,1080.0 180.5,1080.0 180.0,1080.0 179.5,1080.0 179.0,1080.0 178.5,1080.0 178.0,1080.0 177.5,1080.0 177.0,1080.0 176.5,1080.0 176.0,1080.0 175.5,1080.0 175.0,1080.0 174.5,1080.0 174.0,1080.0 173.5,1080.0 173.0,1080.0 172.5,1080.0 172.0,1080.0 171.5,1080.0 171.0,1080.0 170.5,1080.0 170.0,1080.0 169.5,1080.0 169.0,1080.0 168.5,1080.0 168.0,1080.0 167.5,1080.0 167.0,1080.0 166.5,1080.0 166.0,1080.0 165.5,1080.0 165.0,1080.0 164.5,1080.0 164.0,1080.0 163.5,1080.0 163.0,1080.0 162.5,1080.0 162.0,1080.0 161.5,1080.0 161.0,1080.0 160.5,1080.0 160.0,1080.0 159.5,1080.0 159.0,1080.0 158.5,1080.0 158.0,1080.0 157.5,1080.0 157.0,1080.0" fill="#fb0505"/>
<path d="M740 1080H1527" stroke="#8a0a0a" stroke-width="6.4" stroke-dasharray="1.6 1.6" fill="none"/>
<text class="pk" x="318" y="452">117</text>
<text class="pk" x="400" y="510">177</text>
<text class="pk" x="427" y="594">196</text>
<text class="pk" x="218" y="911">44</text>
<text class="pk" x="268" y="950">81</text>
<text class="pk" x="188" y="1069">23</text>
<text class="pk" x="505" y="886">254</text>
<text class="pk" x="567" y="960">300</text>
<text class="pk" x="637" y="909">351</text>
<polyline points="157.0,1080.0 157.5,1080.0 158.0,1080.0 158.5,1080.0 159.0,1080.0 159.5,1080.0 160.0,1080.0 160.5,1080.0 161.0,1080.0 161.5,1080.0 162.0,1080.0 162.5,1080.0 163.0,1080.0 163.5,1080.0 164.0,1080.0 164.5,1080.0 165.0,1080.0 165.5,1080.0 166.0,1080.0 166.5,1080.0 167.0,1080.0 167.5,1080.0 168.0,1080.0 168.5,1080.0 169.0,1080.0 169.5,1080.0 170.0,1080.0 170.5,1080.0 171.0,1080.0 171.5,1080.0 172.0,1080.0 172.5,1080.0 173.0,1080.0 173.5,1080.0 174.0,1080.0 174.5,1080.0 175.0,1080.0 175.5,1080.0 176.0,1080.0 176.5,1080.0 177.0,1080.0 177.5,1080.0 178.0,1080.0 178.5,1080.0 179.0,1080.0 179.5,1080.0 180.0,1080.0 180.5,1079.9 181.0,1079.8 181.5,1079.6 182.0,1079.3 182.5,1079.0 183.0,1078.7 183.5,1078.3 184.0,1078.0 184.5,1077.6 185.0,1077.1 185.5,1076.5 186.0,1075.9 186.5,1075.5 187.0,1075.1 187.5,1075.0 188.0,1075.2 188.5,1075.7 189.0,1076.5 189.5,1077.3 190.0,1078.1 190.5,1078.7 191.0,1079.0 191.5,1079.1 192.0,1079.2 192.5,1079.3 193.0,1079.4 193.5,1079.5 194.0,1079.6 194.5,1079.6 195.0,1079.7 195.5,1079.8 196.0,1079.8 196.5,1079.9 197.0,1079.9 197.5,1079.9 198.0,1080.0 198.5,1080.0 199.0,1080.0 199.5,1080.0 200.0,1080.0 200.5,1080.0 201.0,1079.9 201.5,1079.9 202.0,1079.8 202.5,1079.7 203.0,1079.5 203.5,1079.3 204.0,1079.1 204.5,1078.9 205.0,1078.6 205.5,1078.3 206.0,1078.0 206.5,1077.1 207.0,1075.1 207.5,1072.2 208.0,1068.6 208.5,1064.5 209.0,1060.0 209.5,1053.9 210.0,1045.2 210.5,1034.7 211.0,1023.2 211.5,1011.4 212.0,1000.0 212.5,987.9 213.0,974.3 213.5,960.9 214.0,948.9 214.5,940.0 215.0,933.0 215.5,926.7 216.0,922.1 216.5,920.0 217.0,919.6 217.5,919.5 218.0,920.3 218.5,922.3 219.0,925.0 219.5,930.2 220.0,938.9 220.5,949.4 221.0,960.0 221.5,971.0 222.0,983.2 222.5,996.0 223.0,1008.5 223.5,1020.0 224.0,1031.2 224.5,1042.9 225.0,1053.6 225.5,1062.4 226.0,1068.0 226.5,1071.4 227.0,1074.4 227.5,1076.7 228.0,1078.3 228.5,1079.0 229.0,1079.2 229.5,1079.3 230.0,1079.4 230.5,1079.6 231.0,1079.7 231.5,1079.7 232.0,1079.8 232.5,1079.9 233.0,1079.9 233.5,1080.0 234.0,1080.0 234.5,1080.0 235.0,1080.0 235.5,1080.0 236.0,1080.0 236.5,1080.0 237.0,1080.0 237.5,1079.9 238.0,1079.9 238.5,1079.9 239.0,1079.8 239.5,1079.8 240.0,1079.8 240.5,1079.7 241.0,1079.6 241.5,1079.6 242.0,1079.5 242.5,1079.5 243.0,1079.4 243.5,1079.3 244.0,1079.2 244.5,1079.1 245.0,1079.1 245.5,1079.0 246.0,1078.9 246.5,1078.8 247.0,1078.7 247.5,1078.6 248.0,1078.5 248.5,1078.4 249.0,1078.2 249.5,1078.1 250.0,1078.0 250.5,1077.9 251.0,1077.7 251.5,1077.5 252.0,1077.3 252.5,1077.1 253.0,1076.8 253.5,1076.5 254.0,1076.1 254.5,1075.8 255.0,1075.3 255.5,1074.9 256.0,1074.4 256.5,1073.9 257.0,1073.3 257.5,1072.7 258.0,1072.0 258.5,1071.1 259.0,1069.9 259.5,1068.3 260.0,1066.4 260.5,1064.1 261.0,1061.4 261.5,1058.4 262.0,1055.0 262.5,1049.7 263.0,1041.6 263.5,1031.5 264.0,1020.6 264.5,1009.8 265.0,1000.0 265.5,990.1 266.0,979.7 266.5,970.7 267.0,965.0 267.5,961.7 268.0,959.0 268.5,957.2 269.0,956.5 269.5,957.0 270.0,958.2 270.5,960.0 271.0,962.0 271.5,965.4 272.0,970.8 272.5,977.3 273.0,984.1 273.5,990.3 274.0,995.0 274.5,998.8 275.0,1002.7 275.5,1006.3 276.0,1009.6 276.5,1012.3 277.0,1014.1 277.5,1015.0 278.0,1014.7 278.5,1013.6 279.0,1011.8 279.5,1009.4 280.0,1006.6 280.5,1003.4 281.0,1000.0 281.5,995.2 282.0,988.2 282.5,979.5 283.0,969.6 283.5,959.2 284.0,948.7 284.5,938.8 285.0,930.0 285.5,921.9 286.0,913.8 286.5,905.7 287.0,897.8 287.5,890.0 288.0,882.4 288.5,875.0 289.0,868.0 289.5,861.3 290.0,855.0 290.5,849.2 291.0,844.0 291.5,839.2 292.0,834.8 292.5,830.6 293.0,826.6 293.5,822.6 294.0,818.6 294.5,814.3 295.0,809.9 295.5,805.0 296.0,799.7 296.5,793.9 297.0,787.3 297.5,780.0 298.0,770.6 298.5,758.4 299.0,743.9 299.5,727.8 300.0,710.5 300.5,692.8 301.0,675.2 301.5,658.3 302.0,642.6 302.5,628.8 303.0,617.2 303.5,606.4 304.0,596.3 304.5,586.7 305.0,577.5 305.5,568.6 306.0,560.0 306.5,551.5 307.0,543.0 307.5,534.8 308.0,526.8 308.5,519.1 309.0,511.9 309.5,505.2 310.0,499.0 310.5,493.1 311.0,487.3 311.5,481.8 312.0,476.9 312.5,472.9 313.0,470.0 313.5,467.8 314.0,465.7 314.5,463.9 315.0,462.3 315.5,461.1 316.0,460.3 316.5,460.0 317.0,460.3 317.5,461.2 318.0,462.6 318.5,464.2 319.0,466.1 319.5,468.1 320.0,470.0 320.5,472.0 321.0,474.1 321.5,476.4 322.0,478.9 322.5,481.7 323.0,484.6 323.5,487.8 324.0,491.3 324.5,495.0 325.0,499.0 325.5,503.5 326.0,508.6 326.5,514.4 327.0,520.8 327.5,527.7 328.0,535.2 328.5,543.1 329.0,551.5 329.5,560.3 330.0,569.5 330.5,579.0 331.0,588.8 331.5,598.9 332.0,609.2 332.5,619.8 333.0,630.9 333.5,644.4 334.0,659.9 334.5,676.8 335.0,694.4 335.5,712.1 336.0,729.2 336.5,745.2 337.0,759.5 337.5,771.2 338.0,780.0 338.5,786.8 339.0,793.2 339.5,799.1 340.0,804.7 340.5,809.8 341.0,814.6 341.5,819.1 342.0,823.3 342.5,827.1 343.0,830.7 343.5,834.0 344.0,837.0 344.5,839.9 345.0,842.5 345.5,845.0 346.0,847.4 346.5,849.8 347.0,852.0 347.5,854.1 348.0,856.1 348.5,857.9 349.0,859.6 349.5,861.0 350.0,862.3 350.5,863.3 351.0,864.0 351.5,864.6 352.0,865.2 352.5,865.7 353.0,866.2 353.5,866.7 354.0,867.2 354.5,867.6 355.0,867.9 355.5,868.2 356.0,868.4 356.5,868.6 357.0,868.7 357.5,868.8 358.0,868.7 358.5,868.5 359.0,868.3 359.5,867.9 360.0,867.5 360.5,866.9 361.0,866.4 361.5,865.7 362.0,865.0 362.5,864.3 363.0,863.6 363.5,862.8 364.0,862.0 364.5,861.1 365.0,860.0 365.5,858.8 366.0,857.4 366.5,855.8 367.0,854.2 367.5,852.4 368.0,850.6 368.5,848.6 369.0,846.6 369.5,844.6 370.0,842.5 370.5,840.4 371.0,838.3 371.5,836.2 372.0,834.0 372.5,831.8 373.0,829.5 373.5,827.1 374.0,824.6 374.5,822.0 375.0,819.2 375.5,816.3 376.0,813.2 376.5,809.9 377.0,806.4 377.5,802.7 378.0,798.7 378.5,794.4 379.0,789.9 379.5,785.1 380.0,780.0 380.5,773.0 381.0,763.2 381.5,751.9 382.0,740.3 382.5,729.5 383.0,720.7 383.5,712.7 384.0,705.0 384.5,697.8 385.0,690.8 385.5,684.0 386.0,677.4 386.5,670.9 387.0,664.5 387.5,658.1 388.0,651.6 388.5,645.0 389.0,638.2 389.5,631.3 390.0,624.0 390.5,616.2 391.0,607.9 391.5,599.3 392.0,590.5 392.5,581.7 393.0,573.1 393.5,565.0 394.0,557.5 394.5,550.7 395.0,545.0 395.5,539.7 396.0,534.2 396.5,529.0 397.0,524.3 397.5,520.4 398.0,517.7 398.5,516.5 399.0,517.1 399.5,519.2 400.0,522.7 400.5,527.2 401.0,532.6 401.5,538.7 402.0,545.0 402.5,553.6 403.0,565.6 403.5,579.9 404.0,595.2 404.5,610.3 405.0,624.0 405.5,637.0 406.0,650.9 406.5,665.3 407.0,680.0 407.5,694.7 408.0,709.1 408.5,722.9 409.0,736.0 409.5,747.9 410.0,758.5 410.5,767.4 411.0,774.5 411.5,779.3 412.0,782.4 412.5,784.8 413.0,786.7 413.5,788.0 414.0,789.0 414.5,789.7 415.0,790.0 415.5,789.5 416.0,788.0 416.5,786.0 417.0,779.9 417.5,768.0 418.0,753.0 418.5,737.4 419.0,724.0 419.5,712.5 420.0,701.1 420.5,689.8 421.0,678.8 421.5,668.1 422.0,658.1 422.5,648.6 423.0,640.0 423.5,631.3 424.0,622.1 424.5,613.4 425.0,606.0 425.5,600.9 426.0,599.0 426.5,600.1 427.0,603.1 427.5,607.5 428.0,612.9 428.5,618.9 429.0,625.0 429.5,632.0 430.0,640.8 430.5,650.7 431.0,661.2 431.5,671.9 432.0,682.9 432.5,695.1 433.0,708.1 433.5,721.6 434.0,735.1 434.5,748.1 435.0,760.2 435.5,771.0 436.0,780.0 436.5,787.6 437.0,794.6 437.5,801.0 438.0,807.0 438.5,812.6 439.0,817.9 439.5,823.0 440.0,828.0 440.5,833.0 441.0,838.2 441.5,843.5 442.0,849.0 442.5,855.0 443.0,861.3 443.5,867.8 444.0,874.5 444.5,881.4 445.0,888.4 445.5,895.4 446.0,902.4 446.5,909.5 447.0,916.5 447.5,923.4 448.0,930.1 448.5,936.6 449.0,942.8 449.5,948.8 450.0,954.5 450.5,960.1 451.0,965.5 451.5,970.8 452.0,975.9 452.5,980.9 453.0,985.7 453.5,990.4 454.0,994.9 454.5,999.2 455.0,1003.2 455.5,1007.1 456.0,1010.8 456.5,1014.1 457.0,1017.0 457.5,1019.5 458.0,1021.7 458.5,1023.9 459.0,1025.7 459.5,1027.2 460.0,1028.4 460.5,1029.2 461.0,1029.8 461.5,1030.2 462.0,1030.2 462.5,1030.1 463.0,1029.8 463.5,1029.3 464.0,1028.6 464.5,1027.9 465.0,1027.0 465.5,1026.0 466.0,1024.9 466.5,1023.7 467.0,1022.4 467.5,1021.1 468.0,1019.7 468.5,1018.2 469.0,1016.6 469.5,1015.0 470.0,1013.3 470.5,1011.5 471.0,1009.7 471.5,1007.8 472.0,1005.8 472.5,1003.7 473.0,1001.6 473.5,999.4 474.0,997.2 474.5,994.9 475.0,992.6 475.5,990.2 476.0,987.9 476.5,985.6 477.0,983.3 477.5,981.1 478.0,978.9 478.5,976.7 479.0,974.6 479.5,972.5 480.0,970.5 480.5,968.4 481.0,966.4 481.5,964.5 482.0,962.5 482.5,960.5 483.0,958.5 483.5,956.4 484.0,954.4 484.5,952.3 485.0,950.2 485.5,948.1 486.0,945.9 486.5,943.7 487.0,941.6 487.5,939.4 488.0,937.2 488.5,935.0 489.0,932.8 489.5,930.7 490.0,928.6 490.5,926.5 491.0,924.5 491.5,922.6 492.0,920.6 492.5,918.8 493.0,916.9 493.5,915.2 494.0,913.4 494.5,911.8 495.0,910.2 495.5,908.6 496.0,907.2 496.5,905.8 497.0,904.4 497.5,903.2 498.0,902.0 498.5,900.9 499.0,899.9 499.5,899.0 500.0,898.1 500.5,897.4 501.0,896.7 501.5,896.1 502.0,895.6 502.5,895.1 503.0,894.8 503.5,894.5 504.0,894.3 504.5,894.2 505.0,894.2 505.5,894.4 506.0,894.6 506.5,895.0 507.0,895.4 507.5,896.0 508.0,896.8 508.5,897.6 509.0,898.6 509.5,899.6 510.0,900.8 510.5,902.1 511.0,903.6 511.5,905.1 512.0,906.7 512.5,908.5 513.0,910.3 513.5,912.2 514.0,914.2 514.5,916.3 515.0,918.4 515.5,920.5 516.0,922.7 516.5,924.9 517.0,927.1 517.5,929.3 518.0,931.5 518.5,933.8 519.0,936.0 519.5,938.2 520.0,940.4 520.5,942.6 521.0,944.8 521.5,947.0 522.0,949.1 522.5,951.3 523.0,953.4 523.5,955.6 524.0,957.6 524.5,959.7 525.0,961.7 525.5,963.7 526.0,965.7 526.5,967.6 527.0,969.4 527.5,971.2 528.0,972.9 528.5,974.6 529.0,976.2 529.5,977.7 530.0,979.2 530.5,980.7 531.0,982.0 531.5,983.4 532.0,984.7 532.5,985.9 533.0,987.1 533.5,988.2 534.0,989.3 534.5,990.4 535.0,991.4 535.5,992.3 536.0,993.3 536.5,994.2 537.0,995.0 537.5,995.8 538.0,996.6 538.5,997.3 539.0,998.0 539.5,998.7 540.0,999.4 540.5,1000.0 541.0,1000.6 541.5,1001.1 542.0,1001.6 542.5,1002.1 543.0,1002.5 543.5,1002.9 544.0,1003.2 544.5,1003.5 545.0,1003.7 545.5,1003.8 546.0,1003.8 546.5,1003.8 547.0,1003.7 547.5,1003.5 548.0,1003.3 548.5,1003.0 549.0,1002.6 549.5,1002.1 550.0,1001.6 550.5,1001.0 551.0,1000.4 551.5,999.6 552.0,998.9 552.5,998.0 553.0,997.2 553.5,996.2 554.0,995.2 554.5,994.2 555.0,993.0 555.5,991.9 556.0,990.7 556.5,989.4 557.0,988.1 557.5,986.8 558.0,985.5 558.5,984.2 559.0,982.8 559.5,981.5 560.0,980.2 560.5,978.9 561.0,977.7 561.5,976.5 562.0,975.4 562.5,974.3 563.0,973.4 563.5,972.5 564.0,971.7 564.5,971.1 565.0,970.6 565.5,970.2 566.0,969.9 566.5,969.7 567.0,969.7 567.5,969.9 568.0,970.2 568.5,970.6 569.0,971.2 569.5,971.9 570.0,972.8 570.5,973.8 571.0,975.0 571.5,976.3 572.0,977.7 572.5,979.2 573.0,980.7 573.5,982.3 574.0,983.9 574.5,985.4 575.0,987.0 575.5,988.5 576.0,989.9 576.5,991.2 577.0,992.5 577.5,993.6 578.0,994.7 578.5,995.7 579.0,996.5 579.5,997.3 580.0,998.0 580.5,998.7 581.0,999.2 581.5,999.8 582.0,1000.2 582.5,1000.6 583.0,1001.0 583.5,1001.3 584.0,1001.5 584.5,1001.7 585.0,1001.9 585.5,1002.0 586.0,1002.1 586.5,1002.1 587.0,1002.1 587.5,1002.1 588.0,1002.0 588.5,1001.8 589.0,1001.6 589.5,1001.4 590.0,1001.2 590.5,1001.0 591.0,1000.7 591.5,1000.4 592.0,1000.1 592.5,999.7 593.0,999.4 593.5,999.1 594.0,998.7 594.5,998.4 595.0,998.0 595.5,997.7 596.0,997.3 596.5,997.0 597.0,996.6 597.5,996.3 598.0,995.9 598.5,995.5 599.0,995.1 599.5,994.8 600.0,994.4 600.5,994.0 601.0,993.6 601.5,993.1 602.0,992.7 602.5,992.2 603.0,991.8 603.5,991.3 604.0,990.8 604.5,990.3 605.0,989.8 605.5,989.2 606.0,988.7 606.5,988.1 607.0,987.5 607.5,986.9 608.0,986.2 608.5,985.6 609.0,984.9 609.5,984.2 610.0,983.5 610.5,982.7 611.0,982.0 611.5,981.2 612.0,980.4 612.5,979.6 613.0,978.7 613.5,977.9 614.0,977.0 614.5,976.1 615.0,975.1 615.5,974.2 616.0,973.2 616.5,972.2 617.0,971.2 617.5,970.1 618.0,969.0 618.5,967.8 619.0,966.7 619.5,965.4 620.0,964.1 620.5,962.8 621.0,961.4 621.5,959.9 622.0,958.4 622.5,956.8 623.0,955.1 623.5,953.4 624.0,951.7 624.5,949.9 625.0,948.2 625.5,946.3 626.0,944.5 626.5,942.7 627.0,940.9 627.5,939.1 628.0,937.3 628.5,935.6 629.0,933.9 629.5,932.2 630.0,930.6 630.5,929.1 631.0,927.6 631.5,926.3 632.0,925.0 632.5,923.8 633.0,922.7 633.5,921.7 634.0,920.8 634.5,920.1 635.0,919.5 635.5,919.0 636.0,918.6 636.5,918.3 637.0,918.2 637.5,918.2 638.0,918.3 638.5,918.5 639.0,918.8 639.5,919.3 640.0,919.8 640.5,920.5 641.0,921.2 641.5,922.1 642.0,923.0 642.5,924.0 643.0,925.1 643.5,926.2 644.0,927.4 644.5,928.6 645.0,929.9 645.5,931.2 646.0,932.6 646.5,933.9 647.0,935.3 647.5,936.6 648.0,938.0 648.5,939.3 649.0,940.7 649.5,942.0 650.0,943.3 650.5,944.6 651.0,945.9 651.5,947.2 652.0,948.5 652.5,949.8 653.0,951.1 653.5,952.4 654.0,953.7 654.5,955.0 655.0,956.3 655.5,957.6 656.0,959.0 656.5,960.3 657.0,961.7 657.5,963.1 658.0,964.5 658.5,965.9 659.0,967.4 659.5,968.9 660.0,970.4 660.5,971.9 661.0,973.5 661.5,975.1 662.0,976.7 662.5,978.3 663.0,980.0 663.5,981.7 664.0,983.4 664.5,985.1 665.0,986.9 665.5,988.6 666.0,990.4 666.5,992.2 667.0,994.0 667.5,995.9 668.0,997.7 668.5,999.6 669.0,1001.5 669.5,1003.4 670.0,1005.4 670.5,1007.4 671.0,1009.3 671.5,1011.4 672.0,1013.4 672.5,1015.4 673.0,1017.5 673.5,1019.6 674.0,1021.6 674.5,1023.7 675.0,1025.7 675.5,1027.8 676.0,1029.8 676.5,1031.8 677.0,1033.7 677.5,1035.6 678.0,1037.4 678.5,1039.2 679.0,1041.0 679.5,1042.7 680.0,1044.4 680.5,1046.0 681.0,1047.5 681.5,1049.1 682.0,1050.5 682.5,1052.0 683.0,1053.4 683.5,1054.7 684.0,1056.1 684.5,1057.3 685.0,1058.5 685.5,1059.7 686.0,1060.8 686.5,1061.8 687.0,1062.8 687.5,1063.7 688.0,1064.5 688.5,1065.3 689.0,1066.0 689.5,1066.6 690.0,1067.1 690.5,1067.6 691.0,1068.1 691.5,1068.5 692.0,1068.8 692.5,1069.1 693.0,1069.4 693.5,1069.7 694.0,1069.9 694.5,1070.2 695.0,1070.4 695.5,1070.6 696.0,1070.7 696.5,1070.9 697.0,1071.1 697.5,1071.2 698.0,1071.4 698.5,1071.5 699.0,1071.7 699.5,1071.8 700.0,1072.0 700.5,1072.1 701.0,1072.2 701.5,1072.3 702.0,1072.5 702.5,1072.6 703.0,1072.7 703.5,1072.8 704.0,1072.9 704.5,1073.0 705.0,1073.1 705.5,1073.2 706.0,1073.3 706.5,1073.4 707.0,1073.5 707.5,1073.6 708.0,1073.7 708.5,1073.7 709.0,1073.8 709.5,1073.9 710.0,1074.0 710.5,1074.1 711.0,1074.1 711.5,1074.2 712.0,1074.3 712.5,1074.4 713.0,1074.4 713.5,1074.5 714.0,1074.6 714.5,1074.6 715.0,1074.7 715.5,1074.8 716.0,1074.9 716.5,1074.9 717.0,1075.0 717.5,1075.1 718.0,1075.1 718.5,1075.2 719.0,1075.2 719.5,1075.3 720.0,1075.4 720.5,1075.4 721.0,1075.5 721.5,1075.5 722.0,1075.6 722.5,1075.7 723.0,1075.7 723.5,1075.8 724.0,1075.8 724.5,1075.9 725.0,1075.9 725.5,1076.0 726.0,1076.1 726.5,1076.1 727.0,1076.2 727.5,1076.2 728.0,1076.3 728.5,1076.3 729.0,1076.4 729.5,1076.4 730.0,1076.5 730.5,1076.6 731.0,1076.6 731.5,1076.7 732.0,1076.7 732.5,1076.8 733.0,1076.8 733.5,1076.9 734.0,1076.9 734.5,1077.0 735.0,1077.0 735.5,1077.1 736.0,1077.2 736.5,1077.2 737.0,1077.3 737.5,1077.3 738.0,1077.4 738.5,1077.4 739.0,1077.5 739.5,1077.5 740.0,1077.6 740.5,1077.7 741.0,1077.7 741.5,1077.8 742.0,1077.8 742.5,1077.9 743.0,1077.9 743.5,1078.0 744.0,1078.0 744.5,1078.1 745.0,1078.1 745.5,1078.2 746.0,1078.3 746.5,1078.3 747.0,1078.4 747.5,1078.4 748.0,1078.5 748.5,1078.5 749.0,1078.6 749.5,1078.6 750.0,1078.7 750.5,1078.7 751.0,1078.8 751.5,1078.9 752.0,1078.9 752.5,1079.0 753.0,1079.0 753.5,1079.1 754.0,1079.2 754.5,1079.2 755.0,1079.3 755.5,1079.3 756.0,1079.4 756.5,1079.5 757.0,1079.5 757.5,1079.6 758.0,1079.7 758.5,1079.7 759.0,1079.8 759.5,1079.8 760.0,1079.8 1527,1080" fill="none" stroke="#0c0303" stroke-width="5.8" stroke-linejoin="round" stroke-linecap="butt"/>
<g stroke="#404040" stroke-width="1.3" fill="none">
<path d="M157.5 163V1103.5"/>
<path d="M134 1080.5H1527.5"/>
<path d="M294.5 1080.5V1103.5"/>
<path d="M431.5 1080.5V1103.5"/>
<path d="M568.5 1080.5V1103.5"/>
<path d="M705.5 1080.5V1103.5"/>
<path d="M842.5 1080.5V1103.5"/>
<path d="M979.5 1080.5V1103.5"/>
<path d="M1116.5 1080.5V1103.5"/>
<path d="M1253.5 1080.5V1103.5"/>
<path d="M1390.5 1080.5V1103.5"/>
<path d="M1527.5 1080.5V1103.5"/>
<path d="M134 918.0H157.5"/>
<path d="M134 755.5H157.5"/>
<path d="M134 593.0H157.5"/>
<path d="M134 430.5H157.5"/>
<path d="M134 268.0H157.5"/>
</g>
<text class="tk" x="139.5" y="1139">0</text>
<text class="tk" x="276.5" y="1139">100</text>
<text class="tk" x="413.5" y="1139">200</text>
<text class="tk" x="550.5" y="1139">300</text>
<text class="tk" x="687.5" y="1139">400</text>
<text class="tk" x="824.5" y="1139">500</text>
<text class="tk" x="961.5" y="1139">600</text>
<text class="tk" x="1098.5" y="1139">700</text>
<text class="tk" x="1235.5" y="1139">800</text>
<text class="tk" x="1372.5" y="1139">900</text>
<text class="tk" x="1509.5" y="1139">1000</text>
<text class="tky" text-anchor="end" x="92.5" y="1090.5">0</text>
<text class="tky" text-anchor="end" x="115.5" y="928.0">0.2</text>
<text class="tky" text-anchor="end" x="115.5" y="765.5">0.4</text>
<text class="tky" text-anchor="end" x="115.5" y="603.0">0.6</text>
<text class="tky" text-anchor="end" x="115.5" y="440.5">0.8</text>
<text class="tky" text-anchor="end" x="115.5" y="278.0">1.0</text>
<text x="5.5" y="111" font-size="27.5" fill="#111">E6</text>
<text x="880" y="1196" font-size="47.2" fill="#111" text-anchor="middle">Size (nm)</text>
<text transform="translate(41 600.7) rotate(-90)" font-size="46.9" fill="#111" text-anchor="middle">Concentration (particles / ml)</text>
</g>
<g id="logo">
<text x="728.7" y="139.4" font-size="98.2" font-weight="700" fill="#000">NANO</text>
<text x="1017.6" y="139.4" font-size="98.2" fill="#6b6b6b">SIGHT</text>
<rect x="729.8" y="150.2" width="585" height="8.4" fill="#e81010"/>
</g>
<g id="inset">
<rect x="1023.6" y="331.0" width="6.5" height="6.5" fill="#8aec88"/>
<rect x="1004.7" y="335.4" width="6" height="6" fill="#8aec88"/>
<rect x="1015.4" y="347.7" width="8" height="8" fill="#8aec88"/>
<rect x="992.2" y="358.3" width="3.5" height="3.5" fill="#8aec88"/>
<rect x="980.3" y="381.6" width="5.5" height="5.5" fill="#8aec88"/>
<rect x="1018.5" y="387.5" width="5.5" height="5.5" fill="#8aec88"/>
<rect x="1015.0" y="399.0" width="6" height="6" fill="#8aec88"/>
<rect x="964.9" y="401.7" width="9" height="9" fill="#8aec88"/>
<rect x="988.2" y="404.7" width="6.5" height="6.5" fill="#8aec88"/>
<rect x="945.0" y="407.6" width="6" height="6" fill="#8aec88"/>
<rect x="927.4" y="410.8" width="4.5" height="4.5" fill="#8aec88"/>
<rect x="972.2" y="413.5" width="7.5" height="7.5" fill="#8aec88"/>
<rect x="984.0" y="417.4" width="4" height="4" fill="#8aec88"/>
<rect x="1011.6" y="416.4" width="9" height="9" fill="#8aec88"/>
<rect x="1003.5" y="432.3" width="4.5" height="4.5" fill="#8aec88"/>
<rect x="1008.1" y="441.0" width="5.5" height="5.5" fill="#8aec88"/>
<rect x="976.4" y="448.5" width="4.5" height="4.5" fill="#8aec88"/>
<rect x="898.3" y="450.6" width="4.5" height="4.5" fill="#8aec88"/>
<rect x="957.1" y="454.2" width="4" height="4" fill="#8aec88"/>
<rect x="939.1" y="464.3" width="4.5" height="4.5" fill="#8aec88"/>
<rect x="1005.2" y="472.1" width="5" height="5" fill="#8aec88"/>
<rect x="919.3" y="488.6" width="3" height="3" fill="#8aec88"/>
<rect x="1025.2" y="488.4" width="4" height="4" fill="#8aec88"/>
<rect x="887.0" y="495.0" width="6.5" height="6.5" fill="#8aec88"/>
<rect x="981.1" y="389.9" width="6" height="6" fill="#8aec88"/>
<rect x="1077.7" y="332.9" width="8" height="8" fill="#8aec88"/>
<rect x="1109.1" y="331.0" width="6.5" height="6.5" fill="#8aec88"/>
<rect x="1085.4" y="352.6" width="5" height="5" fill="#8aec88"/>
<rect x="1050.3" y="429.6" width="9" height="9" fill="#8aec88"/>
<rect x="1048.3" y="441.2" width="4.5" height="4.5" fill="#8aec88"/>
<rect x="1066.3" y="466.2" width="6.5" height="6.5" fill="#8aec88"/>
<rect x="1015.1" y="347.4" width="8" height="8" fill="#8aec88"/>
<rect x="885.3" y="599.6" width="9" height="9" fill="#8aec88"/>
<rect x="903.0" y="574.6" width="9" height="9" fill="#8aec88"/>
<rect x="906.7" y="631.3" width="12" height="12" fill="#8aec88"/>
<rect x="953.1" y="630.6" width="9" height="9" fill="#8aec88"/>
<rect x="964.9" y="651.2" width="10.5" height="10.5" fill="#8aec88"/>
<rect x="869.9" y="651.2" width="7.5" height="7.5" fill="#8aec88"/>
<rect x="919.2" y="649.0" width="6" height="6" fill="#8aec88"/>
<rect x="905.3" y="592.3" width="4.5" height="4.5" fill="#8aec88"/>
<rect x="907.2" y="512.8" width="5" height="5" fill="#8aec88"/>
<rect x="886.9" y="536.8" width="4.5" height="4.5" fill="#8aec88"/>
<rect x="896.2" y="535.4" width="4" height="4" fill="#8aec88"/>
<rect x="878.2" y="541.6" width="3.5" height="3.5" fill="#8aec88"/>
<rect x="1013.2" y="496.6" width="8" height="8" fill="#8aec88"/>
<rect x="1001.7" y="516.5" width="4.5" height="4.5" fill="#8aec88"/>
<rect x="987.7" y="519.1" width="4.5" height="4.5" fill="#8aec88"/>
<rect x="1013.0" y="527.3" width="3.5" height="3.5" fill="#8aec88"/>
<rect x="1017.7" y="532.7" width="3.5" height="3.5" fill="#8aec88"/>
<rect x="963.9" y="561.1" width="8" height="8" fill="#8aec88"/>
<rect x="995.5" y="573.2" width="4.5" height="4.5" fill="#8aec88"/>
<rect x="1005.9" y="573.7" width="5" height="5" fill="#8aec88"/>
<rect x="1007.6" y="592.0" width="4.5" height="4.5" fill="#8aec88"/>
<rect x="1024.7" y="597.2" width="5" height="5" fill="#8aec88"/>
<rect x="1033.9" y="610.2" width="5" height="5" fill="#8aec88"/>
<rect x="976.2" y="609.3" width="3.5" height="3.5" fill="#8aec88"/>
<rect x="974.9" y="614.0" width="4.5" height="4.5" fill="#8aec88"/>
<rect x="834.8" y="665.5" width="4" height="4" fill="#8aec88"/>
<rect x="844.9" y="657.6" width="4.5" height="4.5" fill="#8aec88"/>
<rect x="832.6" y="685.4" width="4" height="4" fill="#8aec88"/>
<rect x="832.1" y="698.6" width="3.5" height="3.5" fill="#8aec88"/>
<rect x="840.5" y="721.9" width="3.5" height="3.5" fill="#8aec88"/>
<rect x="886.6" y="700.1" width="6.5" height="6.5" fill="#8aec88"/>
<rect x="895.5" y="707.5" width="3.5" height="3.5" fill="#8aec88"/>
<rect x="938.2" y="710.0" width="3.5" height="3.5" fill="#8aec88"/>
<rect x="961.2" y="709.2" width="4.5" height="4.5" fill="#8aec88"/>
<rect x="987.7" y="698.4" width="4.5" height="4.5" fill="#8aec88"/>
<rect x="944.8" y="689.5" width="3.5" height="3.5" fill="#8aec88"/>
<rect x="926.4" y="689.1" width="3.5" height="3.5" fill="#8aec88"/>
<rect x="947.7" y="677.3" width="5" height="5" fill="#8aec88"/>
<rect x="965.4" y="652.2" width="9.5" height="9.5" fill="#8aec88"/>
<rect x="931.7" y="659.8" width="10.5" height="10.5" fill="#8aec88"/>
<rect x="917.0" y="652.5" width="7.5" height="7.5" fill="#8aec88"/>
<rect x="869.9" y="651.7" width="7.5" height="7.5" fill="#8aec88"/>
<rect x="1043.4" y="555.2" width="4.5" height="4.5" fill="#8aec88"/>
<rect x="1067.4" y="560.7" width="8" height="8" fill="#8aec88"/>
<rect x="1076.2" y="565.8" width="4.5" height="4.5" fill="#8aec88"/>
<rect x="1056.0" y="568.9" width="5" height="5" fill="#8aec88"/>
<rect x="1071.8" y="596.0" width="4.5" height="4.5" fill="#8aec88"/>
<rect x="1039.8" y="522.8" width="5" height="5" fill="#8aec88"/>
<rect x="905.0" y="655.2" width="6" height="6" fill="#8aec88"/>
<rect x="897.8" y="678.5" width="7" height="7" fill="#8aec88"/>
<rect x="870.6" y="629.9" width="8.5" height="8.5" fill="#8aec88"/>
<rect x="844.7" y="627.5" width="8" height="8" fill="#8aec88"/>
<rect x="892.2" y="671.5" width="6" height="6" fill="#8aec88"/>
<rect x="887.1" y="660.2" width="8" height="8" fill="#8aec88"/>
<rect x="923.0" y="636.1" width="8.5" height="8.5" fill="#8aec88"/>
<rect x="902.0" y="660.9" width="7.5" height="7.5" fill="#8aec88"/>
<rect x="906.1" y="654.4" width="8.5" height="8.5" fill="#8aec88"/>
<rect x="933.5" y="637.7" width="7" height="7" fill="#8aec88"/>
<rect x="895.9" y="672.5" width="5" height="5" fill="#8aec88"/>
<rect x="879.0" y="667.4" width="7" height="7" fill="#8aec88"/>
<rect x="866.1" y="654.2" width="6.5" height="6.5" fill="#8aec88"/>
<rect x="915.3" y="637.3" width="7" height="7" fill="#8aec88"/>
<rect x="909.2" y="695.7" width="3" height="3" fill="#8aec88"/>
<rect x="901.6" y="642.4" width="3.5" height="3.5" fill="#8aec88"/>
<rect x="907.6" y="699.1" width="3" height="3" fill="#8aec88"/>
<rect x="850.4" y="722.5" width="4.5" height="4.5" fill="#8aec88"/>
<rect x="942.0" y="709.1" width="4.5" height="4.5" fill="#8aec88"/>
<rect x="849.9" y="673.9" width="4.5" height="4.5" fill="#8aec88"/>
<rect x="905.0" y="686.6" width="4.5" height="4.5" fill="#8aec88"/>
<rect x="947.6" y="698.9" width="5" height="5" fill="#8aec88"/>
<rect x="841.1" y="676.6" width="4.5" height="4.5" fill="#8aec88"/>
<rect x="883.0" y="687.9" width="4.5" height="4.5" fill="#8aec88"/>
<rect x="852.6" y="688.8" width="4" height="4" fill="#8aec88"/>
<rect x="860.2" y="727.1" width="3" height="3" fill="#8aec88"/>
<rect x="894.6" y="678.1" width="5" height="5" fill="#8aec88"/>
<rect x="881.6" y="663.8" width="4.5" height="4.5" fill="#8aec88"/>
<rect x="855.5" y="691.8" width="3.5" height="3.5" fill="#8aec88"/>
<rect x="903.3" y="685.7" width="4" height="4" fill="#8aec88"/>
<rect x="891.5" y="685.2" width="3" height="3" fill="#8aec88"/>
<rect x="901.2" y="696.1" width="4" height="4" fill="#8aec88"/>
<rect x="936.5" y="675.1" width="4.5" height="4.5" fill="#8aec88"/>
<rect x="887.9" y="704.0" width="5" height="5" fill="#8aec88"/>
<rect x="883.5" y="692.3" width="4" height="4" fill="#8aec88"/>
<rect x="876.5" y="674.4" width="4.5" height="4.5" fill="#8aec88"/>
<rect x="896.7" y="673.8" width="3.5" height="3.5" fill="#8aec88"/>
<rect x="854.7" y="340.3" width="3.5" height="3.5" fill="#3b9b1d"/>
<rect x="848.3" y="352.1" width="3.5" height="3.5" fill="#3b9b1d"/>
<rect x="865.7" y="355.8" width="3.5" height="3.5" fill="#3b9b1d"/>
<rect x="883.2" y="361.3" width="3.5" height="3.5" fill="#3b9b1d"/>
<rect x="837.6" y="367.9" width="5" height="5" fill="#3b9b1d"/>
<rect x="826.2" y="376.0" width="3.5" height="3.5" fill="#3b9b1d"/>
<rect x="837.1" y="376.6" width="6" height="6" fill="#3b9b1d"/>
<rect x="853.7" y="374.7" width="6" height="6" fill="#3b9b1d"/>
<rect x="858.3" y="372.4" width="3.5" height="3.5" fill="#3b9b1d"/>
<rect x="876.6" y="371.6" width="3.5" height="3.5" fill="#3b9b1d"/>
<rect x="883.2" y="378.3" width="3.5" height="3.5" fill="#3b9b1d"/>
<rect x="895.6" y="376.0" width="3.5" height="3.5" fill="#3b9b1d"/>
<rect x="902.2" y="345.1" width="3.5" height="3.5" fill="#3b9b1d"/>
<rect x="904.6" y="358.3" width="5" height="5" fill="#3b9b1d"/>
<rect x="921.4" y="348.1" width="3.5" height="3.5" fill="#3b9b1d"/>
<rect x="933.2" y="354.0" width="3.5" height="3.5" fill="#3b9b1d"/>
<rect x="946.3" y="339.9" width="3.5" height="3.5" fill="#3b9b1d"/>
<rect x="919.0" y="383.3" width="3.5" height="3.5" fill="#3b9b1d"/>
<rect x="872.6" y="384.4" width="3.5" height="3.5" fill="#3b9b1d"/>
<rect x="877.0" y="388.0" width="7.5" height="7.5" fill="#3b9b1d"/>
<rect x="880.7" y="398.8" width="3.5" height="3.5" fill="#3b9b1d"/>
<rect x="893.8" y="397.3" width="3.5" height="3.5" fill="#3b9b1d"/>
<rect x="900.9" y="396.5" width="5.5" height="5.5" fill="#3b9b1d"/>
<rect x="898.4" y="405.7" width="3.5" height="3.5" fill="#3b9b1d"/>
<rect x="830.8" y="394.4" width="3.5" height="3.5" fill="#3b9b1d"/>
<rect x="843.9" y="395.9" width="3.5" height="3.5" fill="#3b9b1d"/>
<rect x="849.1" y="394.1" width="3.5" height="3.5" fill="#3b9b1d"/>
<rect x="857.2" y="400.6" width="3.5" height="3.5" fill="#3b9b1d"/>
<rect x="865.3" y="405.3" width="3.5" height="3.5" fill="#3b9b1d"/>
<rect x="822.6" y="403.2" width="3.5" height="3.5" fill="#3b9b1d"/>
<rect x="822.3" y="407.4" width="3.5" height="3.5" fill="#3b9b1d"/>
<rect x="834.6" y="404.1" width="3.5" height="3.5" fill="#3b9b1d"/>
<rect x="830.4" y="411.0" width="3.5" height="3.5" fill="#3b9b1d"/>
<rect x="837.3" y="410.6" width="5" height="5" fill="#3b9b1d"/>
<rect x="848.8" y="408.7" width="3.5" height="3.5" fill="#3b9b1d"/>
<rect x="861.6" y="413.1" width="3.5" height="3.5" fill="#3b9b1d"/>
<rect x="850.1" y="417.8" width="3.5" height="3.5" fill="#3b9b1d"/>
<rect x="873.9" y="421.9" width="3.5" height="3.5" fill="#3b9b1d"/>
<rect x="876.3" y="426.5" width="3.5" height="3.5" fill="#3b9b1d"/>
<rect x="902.1" y="431.5" width="3.5" height="3.5" fill="#3b9b1d"/>
<rect x="842.1" y="435.9" width="3.5" height="3.5" fill="#3b9b1d"/>
<rect x="835.4" y="443.6" width="3.5" height="3.5" fill="#3b9b1d"/>
<rect x="847.0" y="443.6" width="3.5" height="3.5" fill="#3b9b1d"/>
<rect x="827.7" y="450.2" width="3.5" height="3.5" fill="#3b9b1d"/>
<rect x="824.8" y="455.8" width="3.5" height="3.5" fill="#3b9b1d"/>
<rect x="826.5" y="458.9" width="3.5" height="3.5" fill="#3b9b1d"/>
<rect x="853.2" y="456.2" width="3.5" height="3.5" fill="#3b9b1d"/>
<rect x="862.6" y="462.9" width="3.5" height="3.5" fill="#3b9b1d"/>
<rect x="888.1" y="462.0" width="5" height="5" fill="#3b9b1d"/>
<rect x="914.9" y="459.2" width="3.5" height="3.5" fill="#3b9b1d"/>
<rect x="842.1" y="478.0" width="3.5" height="3.5" fill="#3b9b1d"/>
<rect x="826.5" y="481.0" width="3.5" height="3.5" fill="#3b9b1d"/>
<rect x="829.2" y="483.9" width="3.5" height="3.5" fill="#3b9b1d"/>
<rect x="835.1" y="486.6" width="3.5" height="3.5" fill="#3b9b1d"/>
<rect x="831.2" y="491.7" width="3.5" height="3.5" fill="#3b9b1d"/>
<rect x="1005.9" y="459.2" width="3.5" height="3.5" fill="#3b9b1d"/>
<rect x="1005.5" y="339.1" width="5" height="5" fill="#3b9b1d"/>
<rect x="927.7" y="342.3" width="10.5" height="10.5" fill="#3b9b1d"/>
<rect x="998.0" y="358.9" width="10.5" height="10.5" fill="#3b9b1d"/>
<rect x="932.5" y="399.4" width="10.5" height="10.5" fill="#3b9b1d"/>
<rect x="936.9" y="394.3" width="10.5" height="10.5" fill="#3b9b1d"/>
<rect x="942.0" y="395.8" width="10.5" height="10.5" fill="#3b9b1d"/>
<rect x="1025.5" y="343.8" width="10.5" height="10.5" fill="#3b9b1d"/>
<rect x="925.6" y="441.4" width="6" height="6" fill="#3b9b1d"/>
<rect x="930.3" y="444.0" width="4.5" height="4.5" fill="#3b9b1d"/>
<rect x="1038.7" y="444.4" width="4.5" height="4.5" fill="#3b9b1d"/>
<rect x="1025.2" y="343.8" width="10.5" height="10.5" fill="#3b9b1d"/>
<rect x="817.1" y="500.3" width="3.5" height="3.5" fill="#3b9b1d"/>
<rect x="867.8" y="501.9" width="3.5" height="3.5" fill="#3b9b1d"/>
<rect x="888.5" y="512.8" width="3.5" height="3.5" fill="#3b9b1d"/>
<rect x="904.3" y="518.1" width="3.5" height="3.5" fill="#3b9b1d"/>
<rect x="830.4" y="524.3" width="3.5" height="3.5" fill="#3b9b1d"/>
<rect x="835.1" y="529.9" width="3.5" height="3.5" fill="#3b9b1d"/>
<rect x="926.1" y="523.7" width="3.5" height="3.5" fill="#3b9b1d"/>
<rect x="861.9" y="545.0" width="3.5" height="3.5" fill="#3b9b1d"/>
<rect x="876.0" y="549.4" width="3.5" height="3.5" fill="#3b9b1d"/>
<rect x="921.2" y="545.0" width="3.5" height="3.5" fill="#3b9b1d"/>
<rect x="865.0" y="561.6" width="5" height="5" fill="#3b9b1d"/>
<rect x="830.9" y="571.8" width="3.5" height="3.5" fill="#3b9b1d"/>
<rect x="834.3" y="574.4" width="3.5" height="3.5" fill="#3b9b1d"/>
<rect x="837.3" y="577.1" width="3.5" height="3.5" fill="#3b9b1d"/>
<rect x="839.8" y="570.4" width="3.5" height="3.5" fill="#3b9b1d"/>
<rect x="825.1" y="584.7" width="3.5" height="3.5" fill="#3b9b1d"/>
<rect x="840.2" y="585.2" width="3.5" height="3.5" fill="#3b9b1d"/>
<rect x="865.5" y="571.9" width="5" height="5" fill="#3b9b1d"/>
<rect x="863.7" y="577.3" width="4.5" height="4.5" fill="#3b9b1d"/>
<rect x="874.9" y="580.8" width="4" height="4" fill="#3b9b1d"/>
<rect x="898.1" y="581.5" width="4" height="4" fill="#3b9b1d"/>
<rect x="871.6" y="597.0" width="4" height="4" fill="#3b9b1d"/>
<rect x="868.5" y="602.4" width="3.5" height="3.5" fill="#3b9b1d"/>
<rect x="856.0" y="605.6" width="3.5" height="3.5" fill="#3b9b1d"/>
<rect x="828.1" y="609.8" width="3.5" height="3.5" fill="#3b9b1d"/>
<rect x="835.1" y="614.5" width="3.5" height="3.5" fill="#3b9b1d"/>
<rect x="816.2" y="618.1" width="3.5" height="3.5" fill="#3b9b1d"/>
<rect x="823.3" y="618.1" width="3.5" height="3.5" fill="#3b9b1d"/>
<rect x="830.2" y="627.0" width="3.5" height="3.5" fill="#3b9b1d"/>
<rect x="841.0" y="630.7" width="3.5" height="3.5" fill="#3b9b1d"/>
<rect x="843.9" y="631.8" width="3.5" height="3.5" fill="#3b9b1d"/>
<rect x="848.3" y="638.5" width="3.5" height="3.5" fill="#3b9b1d"/>
<rect x="851.3" y="636.3" width="3.5" height="3.5" fill="#3b9b1d"/>
<rect x="861.6" y="639.5" width="3.5" height="3.5" fill="#3b9b1d"/>
<rect x="853.2" y="647.7" width="3.5" height="3.5" fill="#3b9b1d"/>
<rect x="824.8" y="651.3" width="3.5" height="3.5" fill="#3b9b1d"/>
<rect x="856.4" y="652.5" width="3.5" height="3.5" fill="#3b9b1d"/>
<rect x="983.9" y="589.6" width="4" height="4" fill="#3b9b1d"/>
<rect x="987.7" y="597.7" width="4" height="4" fill="#3b9b1d"/>
<rect x="1002.9" y="596.0" width="5" height="5" fill="#3b9b1d"/>
<rect x="950.7" y="621.1" width="5" height="5" fill="#3b9b1d"/>
<rect x="967.1" y="620.7" width="6" height="6" fill="#3b9b1d"/>
<rect x="958.3" y="617.6" width="6" height="6" fill="#3b9b1d"/>
<rect x="948.9" y="500.7" width="6.5" height="6.5" fill="#3b9b1d"/>
<rect x="933.3" y="540.8" width="8" height="8" fill="#3b9b1d"/>
<rect x="930.2" y="559.8" width="12" height="12" fill="#3b9b1d"/>
<rect x="886.8" y="551.8" width="6" height="6" fill="#3b9b1d"/>
<rect x="913.6" y="588.1" width="5.5" height="5.5" fill="#3b9b1d"/>
<rect x="935.2" y="598.7" width="5.5" height="5.5" fill="#3b9b1d"/>
<rect x="943.1" y="592.9" width="4" height="4" fill="#3b9b1d"/>
<rect x="948.7" y="577.1" width="6" height="6" fill="#3b9b1d"/>
<rect x="854.6" y="623.0" width="9.5" height="9.5" fill="#3b9b1d"/>
<rect x="987.0" y="639.4" width="4.5" height="4.5" fill="#3b9b1d"/>
<rect x="984.8" y="646.0" width="7.5" height="7.5" fill="#3b9b1d"/>
<rect x="880.4" y="614.5" width="16" height="16" fill="#3b9b1d"/>
<rect x="867.8" y="628.5" width="17.5" height="17.5" fill="#3b9b1d"/>
<rect x="867.6" y="638.6" width="12" height="12" fill="#3b9b1d"/>
<rect x="863.2" y="643.8" width="9" height="9" fill="#3b9b1d"/>
<rect x="824.3" y="650.7" width="4.5" height="4.5" fill="#3b9b1d"/>
<rect x="853.5" y="648.1" width="3.5" height="3.5" fill="#3b9b1d"/>
<rect x="856.7" y="653.2" width="3" height="3" fill="#3b9b1d"/>
<rect x="859.6" y="656.9" width="3" height="3" fill="#3b9b1d"/>
<rect x="840.9" y="662.8" width="3" height="3" fill="#3b9b1d"/>
<rect x="833.2" y="702.6" width="3.5" height="3.5" fill="#3b9b1d"/>
<rect x="969.5" y="685.3" width="9.5" height="9.5" fill="#3b9b1d"/>
<rect x="981.1" y="691.8" width="4" height="4" fill="#3b9b1d"/>
<rect x="1012.8" y="691.3" width="5" height="5" fill="#3b9b1d"/>
<rect x="1010.3" y="685.6" width="4.5" height="4.5" fill="#3b9b1d"/>
<rect x="1020.9" y="697.0" width="4.5" height="4.5" fill="#3b9b1d"/>
<rect x="1009.0" y="676.0" width="4" height="4" fill="#3b9b1d"/>
<rect x="992.9" y="675.0" width="4.5" height="4.5" fill="#3b9b1d"/>
<rect x="982.1" y="677.0" width="4" height="4" fill="#3b9b1d"/>
<rect x="947.9" y="685.9" width="4" height="4" fill="#3b9b1d"/>
<rect x="947.0" y="697.2" width="3.5" height="3.5" fill="#3b9b1d"/>
<rect x="949.9" y="700.8" width="3.5" height="3.5" fill="#3b9b1d"/>
<rect x="930.3" y="713.9" width="4.5" height="4.5" fill="#3b9b1d"/>
<rect x="933.0" y="703.8" width="3.5" height="3.5" fill="#3b9b1d"/>
<rect x="921.2" y="707.3" width="4.5" height="4.5" fill="#3b9b1d"/>
<rect x="910.9" y="703.8" width="3.5" height="3.5" fill="#3b9b1d"/>
<rect x="892.5" y="712.3" width="3.5" height="3.5" fill="#3b9b1d"/>
<rect x="879.3" y="729.6" width="3.5" height="3.5" fill="#3b9b1d"/>
<rect x="860.9" y="726.8" width="4" height="4" fill="#3b9b1d"/>
<rect x="863.1" y="722.9" width="3.5" height="3.5" fill="#3b9b1d"/>
<rect x="868.7" y="723.1" width="5.5" height="5.5" fill="#3b9b1d"/>
<rect x="853.4" y="715.5" width="8" height="8" fill="#3b9b1d"/>
<rect x="850.0" y="716.5" width="4.5" height="4.5" fill="#3b9b1d"/>
<rect x="897.2" y="718.5" width="4.5" height="4.5" fill="#3b9b1d"/>
<rect x="904.0" y="719.0" width="4" height="4" fill="#3b9b1d"/>
<rect x="909.9" y="720.9" width="4" height="4" fill="#3b9b1d"/>
<rect x="860.8" y="707.5" width="5" height="5" fill="#3b9b1d"/>
<rect x="866.5" y="709.9" width="3" height="3" fill="#3b9b1d"/>
<rect x="842.4" y="711.2" width="3.5" height="3.5" fill="#3b9b1d"/>
<rect x="849.0" y="699.6" width="4.5" height="4.5" fill="#3b9b1d"/>
<rect x="862.6" y="702.1" width="4.5" height="4.5" fill="#3b9b1d"/>
<rect x="845.1" y="678.0" width="3.5" height="3.5" fill="#3b9b1d"/>
<rect x="851.5" y="677.1" width="3" height="3" fill="#3b9b1d"/>
<rect x="846.3" y="667.2" width="6" height="6" fill="#3b9b1d"/>
<rect x="854.9" y="669.2" width="5" height="5" fill="#3b9b1d"/>
<rect x="864.7" y="667.9" width="6" height="6" fill="#3b9b1d"/>
<rect x="1050.8" y="580.1" width="4.5" height="4.5" fill="#3b9b1d"/>
<rect x="1061.8" y="609.3" width="4.5" height="4.5" fill="#3b9b1d"/>
<rect x="1063.0" y="637.2" width="4.5" height="4.5" fill="#3b9b1d"/>
<rect x="1019.0" y="695.5" width="5" height="5" fill="#3b9b1d"/>
<rect x="889.6" y="657.5" width="7.5" height="7.5" fill="#3b9b1d"/>
<rect x="924.5" y="652.0" width="5" height="5" fill="#3b9b1d"/>
<rect x="854.2" y="667.7" width="5" height="5" fill="#3b9b1d"/>
<rect x="903.7" y="642.6" width="8.5" height="8.5" fill="#3b9b1d"/>
<rect x="888.6" y="642.7" width="5" height="5" fill="#3b9b1d"/>
<rect x="892.7" y="622.3" width="9" height="9" fill="#3b9b1d"/>
<rect x="925.9" y="649.3" width="5.5" height="5.5" fill="#3b9b1d"/>
<rect x="938.9" y="661.6" width="5" height="5" fill="#3b9b1d"/>
<rect x="911.6" y="641.3" width="5.5" height="5.5" fill="#3b9b1d"/>
<rect x="899.6" y="674.3" width="7" height="7" fill="#3b9b1d"/>
<rect x="926.8" y="667.8" width="5" height="5" fill="#3b9b1d"/>
<rect x="901.0" y="660.0" width="6" height="6" fill="#3b9b1d"/>
<rect x="948.5" y="652.7" width="7.5" height="7.5" fill="#3b9b1d"/>
<rect x="896.7" y="669.0" width="6" height="6" fill="#3b9b1d"/>
<rect x="868.3" y="651.8" width="5" height="5" fill="#3b9b1d"/>
<rect x="884.8" y="661.0" width="8" height="8" fill="#3b9b1d"/>
<rect x="882.1" y="641.9" width="7" height="7" fill="#3b9b1d"/>
<rect x="901.6" y="676.1" width="6" height="6" fill="#3b9b1d"/>
<rect x="921.0" y="638.3" width="5.5" height="5.5" fill="#3b9b1d"/>
<rect x="844.7" y="680.6" width="8" height="8" fill="#3b9b1d"/>
<rect x="878.2" y="672.0" width="5" height="5" fill="#3b9b1d"/>
<rect x="847.8" y="665.3" width="8" height="8" fill="#3b9b1d"/>
<rect x="891.8" y="644.0" width="6.5" height="6.5" fill="#3b9b1d"/>
<rect x="905.1" y="707.9" width="4" height="4" fill="#3b9b1d"/>
<rect x="895.7" y="705.9" width="4.5" height="4.5" fill="#3b9b1d"/>
<rect x="852.0" y="680.6" width="3" height="3" fill="#3b9b1d"/>
<rect x="838.8" y="673.8" width="3" height="3" fill="#3b9b1d"/>
<rect x="947.9" y="705.8" width="4" height="4" fill="#3b9b1d"/>
<rect x="884.0" y="699.5" width="4" height="4" fill="#3b9b1d"/>
<rect x="902.1" y="696.8" width="3" height="3" fill="#3b9b1d"/>
<rect x="874.7" y="705.1" width="4.5" height="4.5" fill="#3b9b1d"/>
<rect x="865.0" y="688.2" width="3.5" height="3.5" fill="#3b9b1d"/>
<rect x="899.8" y="710.7" width="5" height="5" fill="#3b9b1d"/>
<rect x="860.5" y="700.0" width="3" height="3" fill="#3b9b1d"/>
<rect x="936.7" y="703.8" width="3.5" height="3.5" fill="#3b9b1d"/>
<rect x="893.3" y="689.5" width="3.5" height="3.5" fill="#3b9b1d"/>
<rect x="871.2" y="643.8" width="4" height="4" fill="#3b9b1d"/>
<rect x="864.9" y="657.4" width="3.5" height="3.5" fill="#3b9b1d"/>
<rect x="843.7" y="687.2" width="4.5" height="4.5" fill="#3b9b1d"/>
<rect x="884.4" y="671.8" width="3" height="3" fill="#3b9b1d"/>
<rect x="890.8" y="657.4" width="4.5" height="4.5" fill="#3b9b1d"/>
<rect x="901.4" y="701.2" width="4.5" height="4.5" fill="#3b9b1d"/>
<rect x="881.6" y="687.1" width="3" height="3" fill="#3b9b1d"/>
<rect x="861.2" y="658.0" width="4.5" height="4.5" fill="#3b9b1d"/>
<rect x="848.2" y="685.4" width="4" height="4" fill="#3b9b1d"/>
<rect x="886.1" y="705.3" width="4" height="4" fill="#3b9b1d"/>
<rect x="925.7" y="677.6" width="4.5" height="4.5" fill="#3b9b1d"/>
<rect x="883.1" y="694.3" width="5" height="5" fill="#3b9b1d"/>
<rect x="911.9" y="685.2" width="4.5" height="4.5" fill="#3b9b1d"/>
<rect x="854.4" y="680.5" width="3.5" height="3.5" fill="#3b9b1d"/>
<rect x="868.5" y="692.0" width="3.5" height="3.5" fill="#3b9b1d"/>
<rect x="878.1" y="696.3" width="3.5" height="3.5" fill="#3b9b1d"/>
<rect x="864.4" y="702.5" width="3" height="3" fill="#3b9b1d"/>
<rect x="901.7" y="676.6" width="3.5" height="3.5" fill="#3b9b1d"/>
<rect x="916.5" y="672.8" width="4" height="4" fill="#3b9b1d"/>
<rect x="916.1" y="649.0" width="5" height="5" fill="#3b9b1d"/>
<rect x="868.6" y="673.4" width="3.5" height="3.5" fill="#3b9b1d"/>
<rect x="852.0" y="662.8" width="3" height="3" fill="#3b9b1d"/>
<rect x="841.6" y="683.6" width="4" height="4" fill="#3b9b1d"/>
<rect x="862.5" y="687.0" width="5" height="5" fill="#3b9b1d"/>
<rect x="864.8" y="702.3" width="3.5" height="3.5" fill="#3b9b1d"/>
<rect x="879.6" y="707.6" width="5" height="5" fill="#3b9b1d"/>
<rect x="958.3" y="378.9" width="11" height="11" fill="#21c521"/>
<rect x="981.1" y="394.3" width="10.5" height="10.5" fill="#21c521"/>
<rect x="961.9" y="407.8" width="10.5" height="10.5" fill="#21c521"/>
<rect x="949.2" y="426.2" width="6.5" height="6.5" fill="#21c521"/>
<rect x="937.2" y="430.7" width="6" height="6" fill="#21c521"/>
<rect x="950.4" y="435.8" width="8.5" height="8.5" fill="#21c521"/>
<rect x="974.4" y="439.9" width="5.5" height="5.5" fill="#21c521"/>
<rect x="995.3" y="440.2" width="8.5" height="8.5" fill="#21c521"/>
<rect x="933.2" y="468.0" width="6" height="6" fill="#21c521"/>
<rect x="960.5" y="472.9" width="5" height="5" fill="#21c521"/>
<rect x="930.6" y="480.2" width="4.5" height="4.5" fill="#21c521"/>
<rect x="971.8" y="487.6" width="7" height="7" fill="#21c521"/>
<rect x="954.2" y="491.1" width="4.5" height="4.5" fill="#21c521"/>
<rect x="961.9" y="493.6" width="4" height="4" fill="#21c521"/>
<rect x="981.1" y="491.8" width="4" height="4" fill="#21c521"/>
<rect x="910.7" y="493.7" width="6" height="6" fill="#21c521"/>
<rect x="1000.3" y="414.2" width="4.5" height="4.5" fill="#21c521"/>
<rect x="999.1" y="420.4" width="4.5" height="4.5" fill="#21c521"/>
<rect x="991.1" y="418.2" width="4.5" height="4.5" fill="#21c521"/>
<rect x="1034.8" y="350.1" width="7.5" height="7.5" fill="#21c521"/>
<rect x="1036.0" y="348.3" width="10.5" height="10.5" fill="#21c521"/>
<rect x="1043.4" y="353.0" width="10.5" height="10.5" fill="#21c521"/>
<rect x="1056.0" y="356.5" width="6.5" height="6.5" fill="#21c521"/>
<rect x="1069.1" y="351.6" width="10.5" height="10.5" fill="#21c521"/>
<rect x="1065.2" y="350.2" width="5" height="5" fill="#21c521"/>
<rect x="1048.8" y="468.7" width="7.5" height="7.5" fill="#21c521"/>
<rect x="1124.1" y="461.1" width="6.5" height="6.5" fill="#21c521"/>
<rect x="912.6" y="556.2" width="7.5" height="7.5" fill="#21c521"/>
<rect x="882.4" y="568.7" width="9" height="9" fill="#21c521"/>
<rect x="888.3" y="575.4" width="7.5" height="7.5" fill="#21c521"/>
<rect x="869.9" y="584.9" width="7.5" height="7.5" fill="#21c521"/>
<rect x="879.0" y="585.6" width="10.5" height="10.5" fill="#21c521"/>
<rect x="920.7" y="588.6" width="10.5" height="10.5" fill="#21c521"/>
<rect x="903.0" y="601.8" width="12" height="12" fill="#21c521"/>
<rect x="911.1" y="604.1" width="7.5" height="7.5" fill="#21c521"/>
<rect x="870.3" y="606.0" width="12.5" height="12.5" fill="#21c521"/>
<rect x="861.8" y="610.0" width="6" height="6" fill="#21c521"/>
<rect x="851.7" y="613.5" width="5.5" height="5.5" fill="#21c521"/>
<rect x="922.9" y="609.9" width="13.5" height="13.5" fill="#21c521"/>
<rect x="932.5" y="615.1" width="9" height="9" fill="#21c521"/>
<rect x="941.3" y="618.8" width="7.5" height="7.5" fill="#21c521"/>
<rect x="1001.9" y="627.9" width="8.5" height="8.5" fill="#21c521"/>
<rect x="1019.9" y="523.6" width="8" height="8" fill="#21c521"/>
<rect x="1008.8" y="575.1" width="5" height="5" fill="#21c521"/>
<rect x="994.1" y="584.0" width="5" height="5" fill="#21c521"/>
<rect x="875.0" y="612.9" width="13.5" height="13.5" fill="#21c521"/>
<rect x="884.6" y="636.4" width="13.5" height="13.5" fill="#21c521"/>
<rect x="885.5" y="643.3" width="17.5" height="17.5" fill="#21c521"/>
<rect x="916.4" y="627.0" width="20.5" height="20.5" fill="#21c521"/>
<rect x="915.0" y="635.9" width="14.5" height="14.5" fill="#21c521"/>
<rect x="937.6" y="646.0" width="7.5" height="7.5" fill="#21c521"/>
<rect x="947.7" y="652.4" width="5" height="5" fill="#21c521"/>
<rect x="873.6" y="712.1" width="7.5" height="7.5" fill="#21c521"/>
<rect x="880.7" y="708.2" width="8" height="8" fill="#21c521"/>
<rect x="900.6" y="708.5" width="6.5" height="6.5" fill="#21c521"/>
<rect x="905.2" y="679.7" width="9" height="9" fill="#21c521"/>
<rect x="866.9" y="695.9" width="7.5" height="7.5" fill="#21c521"/>
<rect x="904.5" y="676.8" width="6" height="6" fill="#21c521"/>
<rect x="938.6" y="684.4" width="5.5" height="5.5" fill="#21c521"/>
<rect x="953.6" y="673.6" width="6.5" height="6.5" fill="#21c521"/>
<rect x="987.0" y="693.7" width="4.5" height="4.5" fill="#21c521"/>
<rect x="954.4" y="694.2" width="3.5" height="3.5" fill="#21c521"/>
<rect x="879.6" y="640.1" width="17.5" height="17.5" fill="#21c521"/>
<rect x="892.1" y="654.1" width="16" height="16" fill="#21c521"/>
<rect x="869.8" y="636.2" width="13.5" height="13.5" fill="#21c521"/>
<rect x="915.7" y="633.4" width="19" height="19" fill="#21c521"/>
<rect x="927.3" y="651.0" width="10.5" height="10.5" fill="#21c521"/>
<rect x="907.4" y="660.5" width="9" height="9" fill="#21c521"/>
<rect x="890.5" y="680.4" width="7.5" height="7.5" fill="#21c521"/>
<rect x="898.6" y="669.4" width="9" height="9" fill="#21c521"/>
<rect x="879.5" y="672.3" width="6" height="6" fill="#21c521"/>
<rect x="937.6" y="646.6" width="7.5" height="7.5" fill="#21c521"/>
<rect x="945.7" y="651.7" width="6" height="6" fill="#21c521"/>
<rect x="984.8" y="646.6" width="7.5" height="7.5" fill="#21c521"/>
<rect x="1044.6" y="558.4" width="7.5" height="7.5" fill="#21c521"/>
<rect x="1051.0" y="692.0" width="5" height="5" fill="#21c521"/>
<rect x="873.3" y="640.0" width="5" height="5" fill="#21c521"/>
<rect x="852.5" y="599.2" width="7" height="7" fill="#21c521"/>
<rect x="910.7" y="675.4" width="7.5" height="7.5" fill="#21c521"/>
<rect x="885.4" y="620.1" width="6" height="6" fill="#21c521"/>
<rect x="875.0" y="650.4" width="8" height="8" fill="#21c521"/>
<rect x="859.4" y="667.0" width="5" height="5" fill="#21c521"/>
<rect x="933.5" y="653.4" width="8" height="8" fill="#21c521"/>
<rect x="912.3" y="628.3" width="7.5" height="7.5" fill="#21c521"/>
<rect x="859.6" y="651.7" width="5" height="5" fill="#21c521"/>
<rect x="906.3" y="625.9" width="6" height="6" fill="#21c521"/>
<rect x="856.7" y="678.8" width="5" height="5" fill="#21c521"/>
<rect x="924.1" y="645.7" width="6" height="6" fill="#21c521"/>
<rect x="934.6" y="632.9" width="7" height="7" fill="#21c521"/>
<rect x="891.9" y="636.0" width="8.5" height="8.5" fill="#21c521"/>
<rect x="929.5" y="611.8" width="6.5" height="6.5" fill="#21c521"/>
<rect x="912.4" y="645.5" width="5" height="5" fill="#21c521"/>
<rect x="923.5" y="614.9" width="5.5" height="5.5" fill="#21c521"/>
<rect x="918.8" y="683.3" width="7" height="7" fill="#21c521"/>
<rect x="924.3" y="606.4" width="8" height="8" fill="#21c521"/>
<rect x="918.0" y="648.9" width="5.5" height="5.5" fill="#21c521"/>
<rect x="912.2" y="619.2" width="7.5" height="7.5" fill="#21c521"/>
<rect x="928.7" y="663.2" width="8.5" height="8.5" fill="#21c521"/>
<rect x="897.3" y="615.6" width="5.5" height="5.5" fill="#21c521"/>
<rect x="872.4" y="684.1" width="9" height="9" fill="#21c521"/>
<rect x="925.0" y="682.2" width="9" height="9" fill="#21c521"/>
<rect x="897.0" y="666.9" width="5.5" height="5.5" fill="#21c521"/>
<rect x="845.5" y="672.3" width="7" height="7" fill="#21c521"/>
<rect x="943.8" y="646.4" width="5.5" height="5.5" fill="#21c521"/>
<rect x="891.9" y="612.2" width="6" height="6" fill="#21c521"/>
<rect x="854.7" y="630.0" width="5" height="5" fill="#21c521"/>
<rect x="896.2" y="664.9" width="8" height="8" fill="#21c521"/>
<rect x="855.1" y="627.1" width="8.5" height="8.5" fill="#21c521"/>
<rect x="873.0" y="624.5" width="7" height="7" fill="#21c521"/>
<rect x="896.4" y="678.4" width="3" height="3" fill="#21c521"/>
<rect x="885.7" y="691.6" width="4.5" height="4.5" fill="#21c521"/>
<rect x="881.2" y="704.3" width="3.5" height="3.5" fill="#21c521"/>
<rect x="874.8" y="707.7" width="3" height="3" fill="#21c521"/>
<rect x="846.6" y="692.4" width="3.5" height="3.5" fill="#21c521"/>
<rect x="913.1" y="689.0" width="3" height="3" fill="#21c521"/>
<rect x="880.0" y="648.2" width="3.5" height="3.5" fill="#21c521"/>
<rect x="897.2" y="716.4" width="3.5" height="3.5" fill="#21c521"/>
<rect x="903.1" y="684.3" width="4.5" height="4.5" fill="#21c521"/>
<rect x="878.9" y="688.9" width="3" height="3" fill="#21c521"/>
<rect x="858.8" y="693.9" width="3.5" height="3.5" fill="#21c521"/>
<rect x="909.2" y="677.7" width="3.5" height="3.5" fill="#21c521"/>
<rect x="931.6" y="688.0" width="3.5" height="3.5" fill="#21c521"/>
<rect x="885.9" y="665.3" width="4" height="4" fill="#21c521"/>
<rect x="882.3" y="686.4" width="3.5" height="3.5" fill="#21c521"/>
<rect x="932.8" y="679.4" width="5" height="5" fill="#21c521"/>
<rect x="887.6" y="694.0" width="3.5" height="3.5" fill="#21c521"/>
<rect x="864.4" y="688.6" width="3.5" height="3.5" fill="#21c521"/>
<rect x="844.2" y="642.0" width="3.5" height="3.5" fill="#21c521"/>
<rect x="893.5" y="694.1" width="3" height="3" fill="#21c521"/>
<rect x="885.5" y="682.2" width="4.5" height="4.5" fill="#21c521"/>
<rect x="1031.9" y="406.4" width="10.5" height="10.5" fill="#22bc8c"/>
<rect x="1034.1" y="423.0" width="9" height="9" fill="#22bc8c"/>
<rect x="1061.3" y="406.4" width="7.5" height="7.5" fill="#22bc8c"/>
<rect x="1034.8" y="422.3" width="10.5" height="10.5" fill="#22bc8c"/>
<rect x="1089.2" y="417.6" width="6.5" height="6.5" fill="#22bc8c"/>
<rect x="1067.7" y="423.0" width="10.5" height="10.5" fill="#22bc8c"/>
<rect x="1081.2" y="428.2" width="10.5" height="10.5" fill="#22bc8c"/>
<rect x="954.5" y="522.3" width="10.5" height="10.5" fill="#22bc8c"/>
<rect x="946.4" y="528.6" width="10.5" height="10.5" fill="#22bc8c"/>
<rect x="953.8" y="532.6" width="7.5" height="7.5" fill="#22bc8c"/>
<rect x="931.5" y="548.6" width="9.5" height="9.5" fill="#22bc8c"/>
<rect x="954.2" y="544.0" width="4.5" height="4.5" fill="#22bc8c"/>
<rect x="870.6" y="616.6" width="6" height="6" fill="#22bc8c"/>
<rect x="948.7" y="496.7" width="4.5" height="4.5" fill="#1f1a6e"/>
<rect x="944.1" y="598.3" width="3.5" height="3.5" fill="#1f1a6e"/>
<rect x="926.6" y="603.7" width="4.5" height="4.5" fill="#1f1a6e"/>
<rect x="911.9" y="597.0" width="3" height="3" fill="#1f1a6e"/>
<rect x="894.2" y="613.7" width="4.5" height="4.5" fill="#1f1a6e"/>
<rect x="906.2" y="653.2" width="5" height="5" fill="#1f1a6e"/>
<rect x="948.4" y="498.1" width="4.5" height="4.5" fill="#1f1a6e"/>
<rect x="947.7" y="579.1" width="5" height="5" fill="#1f1a6e"/>
<rect x="944.3" y="602.6" width="6" height="6" fill="#1f1a6e"/>
<rect x="930.3" y="561.4" width="6" height="6" fill="#1f1a6e"/>
<rect x="915.6" y="626.0" width="3.5" height="3.5" fill="#1f1a6e"/>
<rect x="890.6" y="627.9" width="3.5" height="3.5" fill="#1f1a6e"/>
<rect x="930.8" y="647.7" width="3.5" height="3.5" fill="#1f1a6e"/>
<rect x="922.9" y="654.9" width="3" height="3" fill="#1f1a6e"/>
<rect x="956.1" y="684.1" width="6" height="6" fill="#1f1a6e"/>
<rect x="914.6" y="686.1" width="5" height="5" fill="#1f1a6e"/>
<rect x="953.1" y="697.4" width="4.5" height="4.5" fill="#1f1a6e"/>
<rect x="912.1" y="698.1" width="4" height="4" fill="#1f1a6e"/>
<rect x="904.3" y="697.2" width="3.5" height="3.5" fill="#1f1a6e"/>
<rect x="901.3" y="686.9" width="3.5" height="3.5" fill="#1f1a6e"/>
<rect x="892.3" y="660.1" width="4" height="4" fill="#1f1a6e"/>
<rect x="906.5" y="653.0" width="5" height="5" fill="#1f1a6e"/>
<rect x="859.4" y="667.7" width="5" height="5" fill="#1f1a6e"/>
<rect x="856.4" y="689.1" width="3.5" height="3.5" fill="#1f1a6e"/>
<rect x="864.8" y="681.6" width="4.5" height="4.5" fill="#1f1a6e"/>
<rect x="862.8" y="693.7" width="4" height="4" fill="#1f1a6e"/>
<rect x="857.2" y="698.6" width="3.5" height="3.5" fill="#1f1a6e"/>
<rect x="884.6" y="694.5" width="4.5" height="4.5" fill="#1f1a6e"/>
<rect x="891.0" y="692.7" width="3.5" height="3.5" fill="#1f1a6e"/>
<rect x="894.0" y="689.1" width="3.5" height="3.5" fill="#1f1a6e"/>
<rect x="876.3" y="704.5" width="3.5" height="3.5" fill="#1f1a6e"/>
<rect x="846.8" y="707.7" width="3" height="3" fill="#1f1a6e"/>
<rect x="930.5" y="647.6" width="4" height="4" fill="#1f1a6e"/>
<rect x="922.7" y="654.9" width="3.5" height="3.5" fill="#1f1a6e"/>
<rect x="854.0" y="702.7" width="5" height="5" fill="#1f1a6e"/>
<rect x="883.7" y="699.5" width="4" height="4" fill="#1f1a6e"/>
<rect x="897.3" y="672.8" width="3.5" height="3.5" fill="#1f1a6e"/>
<rect x="845.9" y="658.9" width="3" height="3" fill="#1f1a6e"/>
<rect x="901.2" y="666.8" width="4" height="4" fill="#1f1a6e"/>
<rect x="907.4" y="649.2" width="4" height="4" fill="#1f1a6e"/>
<rect x="908.1" y="703.9" width="3" height="3" fill="#1f1a6e"/>
<rect x="926.4" y="665.9" width="3.5" height="3.5" fill="#1f1a6e"/>
<rect x="884.8" y="695.3" width="3" height="3" fill="#1f1a6e"/>
<rect x="932.2" y="661.0" width="4.5" height="4.5" fill="#1f1a6e"/>
<rect x="855.6" y="701.6" width="5" height="5" fill="#1f1a6e"/>
<rect x="845.0" y="695.9" width="3" height="3" fill="#1f1a6e"/>
<rect x="908.9" y="684.9" width="3.5" height="3.5" fill="#1f1a6e"/>
<rect x="915.2" y="477.5" width="10.5" height="10.5" fill="#4311ae"/>
<rect x="1014.7" y="479.8" width="8" height="8" fill="#4311ae"/>
<rect x="986.9" y="490.7" width="10.5" height="10.5" fill="#4311ae"/>
<rect x="995.8" y="488.5" width="10.5" height="10.5" fill="#4311ae"/>
<rect x="1033.4" y="495.2" width="7.5" height="7.5" fill="#4311ae"/>
<rect x="1033.1" y="498.5" width="8" height="8" fill="#4311ae"/>
<rect x="969.8" y="512.5" width="6.5" height="6.5" fill="#4311ae"/>
<rect x="935.4" y="518.2" width="8.5" height="8.5" fill="#4311ae"/>
<rect x="978.1" y="520.4" width="10.5" height="10.5" fill="#4311ae"/>
<rect x="1033.1" y="513.2" width="8" height="8" fill="#4311ae"/>
<rect x="1030.9" y="525.3" width="6.5" height="6.5" fill="#4311ae"/>
<rect x="964.9" y="541.2" width="10.5" height="10.5" fill="#4311ae"/>
<rect x="975.7" y="542.7" width="6.5" height="6.5" fill="#4311ae"/>
<rect x="923.4" y="548.9" width="6" height="6" fill="#4311ae"/>
<rect x="942.4" y="548.1" width="4.5" height="4.5" fill="#4311ae"/>
<rect x="976.4" y="551.6" width="6.5" height="6.5" fill="#4311ae"/>
<rect x="997.3" y="550.0" width="10.5" height="10.5" fill="#4311ae"/>
<rect x="964.4" y="555.0" width="5.5" height="5.5" fill="#4311ae"/>
<rect x="953.1" y="558.1" width="7.5" height="7.5" fill="#4311ae"/>
<rect x="937.9" y="559.1" width="5.5" height="5.5" fill="#4311ae"/>
<rect x="1030.9" y="564.0" width="11" height="11" fill="#4311ae"/>
<rect x="898.8" y="570.0" width="5" height="5" fill="#4311ae"/>
<rect x="937.9" y="574.2" width="4" height="4" fill="#4311ae"/>
<rect x="935.9" y="579.3" width="5" height="5" fill="#4311ae"/>
<rect x="970.5" y="582.8" width="5" height="5" fill="#4311ae"/>
<rect x="978.9" y="583.5" width="6" height="6" fill="#4311ae"/>
<rect x="949.1" y="589.8" width="4.5" height="4.5" fill="#4311ae"/>
<rect x="1016.2" y="587.6" width="8" height="8" fill="#4311ae"/>
<rect x="993.1" y="598.0" width="7" height="7" fill="#4311ae"/>
<rect x="940.0" y="627.8" width="8" height="8" fill="#4311ae"/>
<rect x="951.6" y="636.7" width="5.5" height="5.5" fill="#4311ae"/>
<rect x="898.4" y="638.4" width="6.5" height="6.5" fill="#4311ae"/>
<rect x="978.1" y="637.9" width="9" height="9" fill="#4311ae"/>
<rect x="965.2" y="641.7" width="4.5" height="4.5" fill="#4311ae"/>
<rect x="999.0" y="644.1" width="5.5" height="5.5" fill="#4311ae"/>
<rect x="972.5" y="649.7" width="5.5" height="5.5" fill="#4311ae"/>
<rect x="872.8" y="664.9" width="10.5" height="10.5" fill="#4311ae"/>
<rect x="885.1" y="670.6" width="12.5" height="12.5" fill="#4311ae"/>
<rect x="872.8" y="676.0" width="7.5" height="7.5" fill="#4311ae"/>
<rect x="870.6" y="684.1" width="9" height="9" fill="#4311ae"/>
<rect x="879.5" y="684.1" width="6" height="6" fill="#4311ae"/>
<rect x="911.8" y="667.2" width="9" height="9" fill="#4311ae"/>
<rect x="922.2" y="664.2" width="7.5" height="7.5" fill="#4311ae"/>
<rect x="924.4" y="672.3" width="7.5" height="7.5" fill="#4311ae"/>
<rect x="945.7" y="665.0" width="6" height="6" fill="#4311ae"/>
<rect x="953.8" y="665.7" width="7.5" height="7.5" fill="#4311ae"/>
<rect x="969.9" y="663.8" width="5.5" height="5.5" fill="#4311ae"/>
<rect x="988.4" y="662.6" width="5.5" height="5.5" fill="#4311ae"/>
<rect x="997.1" y="661.8" width="5" height="5" fill="#4311ae"/>
<rect x="1016.7" y="663.8" width="4.5" height="4.5" fill="#4311ae"/>
<rect x="980.8" y="670.2" width="4.5" height="4.5" fill="#4311ae"/>
<rect x="963.4" y="673.5" width="4.5" height="4.5" fill="#4311ae"/>
<rect x="968.4" y="678.8" width="3.5" height="3.5" fill="#4311ae"/>
<rect x="934.7" y="676.8" width="4.5" height="4.5" fill="#4311ae"/>
<rect x="930.3" y="673.8" width="4.5" height="4.5" fill="#4311ae"/>
<rect x="927.4" y="683.4" width="4.5" height="4.5" fill="#4311ae"/>
<rect x="933.0" y="690.8" width="3.5" height="3.5" fill="#4311ae"/>
<rect x="921.5" y="692.3" width="3" height="3" fill="#4311ae"/>
<rect x="928.6" y="699.4" width="5" height="5" fill="#4311ae"/>
<rect x="839.7" y="675.7" width="4.5" height="4.5" fill="#4311ae"/>
<rect x="853.0" y="682.7" width="4.5" height="4.5" fill="#4311ae"/>
<rect x="840.5" y="684.9" width="3" height="3" fill="#4311ae"/>
<rect x="847.6" y="685.7" width="3.5" height="3.5" fill="#4311ae"/>
<rect x="837.5" y="691.5" width="3" height="3" fill="#4311ae"/>
<rect x="841.9" y="692.2" width="6" height="6" fill="#4311ae"/>
<rect x="848.3" y="693.2" width="5" height="5" fill="#4311ae"/>
<rect x="898.4" y="639.0" width="6.5" height="6.5" fill="#4311ae"/>
<rect x="952.1" y="637.5" width="5" height="5" fill="#4311ae"/>
<rect x="965.2" y="641.7" width="4.5" height="4.5" fill="#4311ae"/>
<rect x="976.6" y="637.7" width="9" height="9" fill="#4311ae"/>
<rect x="982.6" y="641.4" width="6" height="6" fill="#4311ae"/>
<rect x="999.5" y="644.2" width="5.5" height="5.5" fill="#4311ae"/>
<rect x="972.5" y="649.8" width="5.5" height="5.5" fill="#4311ae"/>
<rect x="1045.9" y="538.1" width="7.5" height="7.5" fill="#4311ae"/>
<rect x="1054.0" y="543.1" width="4.5" height="4.5" fill="#4311ae"/>
<rect x="1098.6" y="556.2" width="10.5" height="10.5" fill="#4311ae"/>
<rect x="1111.4" y="553.1" width="5.5" height="5.5" fill="#4311ae"/>
<rect x="1062.1" y="583.0" width="4.5" height="4.5" fill="#4311ae"/>
<rect x="1070.2" y="617.1" width="4.5" height="4.5" fill="#4311ae"/>
<rect x="1056.3" y="623.9" width="10.5" height="10.5" fill="#4311ae"/>
<rect x="1066.5" y="625.0" width="5.5" height="5.5" fill="#4311ae"/>
<rect x="1089.5" y="643.3" width="5" height="5" fill="#4311ae"/>
<rect x="1045.9" y="655.3" width="6" height="6" fill="#4311ae"/>
<rect x="1090.0" y="643.0" width="5" height="5" fill="#4311ae"/>
<rect x="1046.0" y="655.5" width="5" height="5" fill="#4311ae"/>
<rect x="875.4" y="677.2" width="5" height="5" fill="#4311ae"/>
<rect x="857.5" y="670.0" width="3" height="3" fill="#4311ae"/>
<rect x="873.0" y="667.1" width="3" height="3" fill="#4311ae"/>
<rect x="854.1" y="704.0" width="4.5" height="4.5" fill="#4311ae"/>
<rect x="906.5" y="708.2" width="3.5" height="3.5" fill="#4311ae"/>
<rect x="928.4" y="683.5" width="3.5" height="3.5" fill="#4311ae"/>
<rect x="882.8" y="673.0" width="4.5" height="4.5" fill="#4311ae"/>
<rect x="903.3" y="678.4" width="5" height="5" fill="#4311ae"/>
<rect x="923.2" y="690.4" width="4.5" height="4.5" fill="#4311ae"/>
<rect x="860.7" y="693.7" width="3.5" height="3.5" fill="#4311ae"/>
<rect x="861.5" y="687.8" width="5" height="5" fill="#4311ae"/>
<rect x="862.8" y="695.9" width="4.5" height="4.5" fill="#4311ae"/>
<rect x="942.3" y="660.5" width="4.5" height="4.5" fill="#4311ae"/>
<rect x="913.9" y="680.1" width="3.5" height="3.5" fill="#4311ae"/>
<g stroke="#808080" stroke-width="1" fill="none">
<path d="M806 233V749"/>
<path d="M793.5 737.2H1339"/>
<path d="M877.6 737.2V749"/>
<path d="M949.2 737.2V749"/>
<path d="M1020.8 737.2V749"/>
<path d="M1092.4 737.2V749"/>
<path d="M1164.0 737.2V749"/>
<path d="M1235.6 737.2V749"/>
<path d="M1307.2 737.2V749"/>
<path d="M793.5 671.3H806"/>
<path d="M793.5 605.8H806"/>
<path d="M793.5 540.3H806"/>
<path d="M793.5 474.8H806"/>
<path d="M793.5 409.3H806"/>
<path d="M793.5 343.8H806"/>
<path d="M793.5 278.3H806"/>
</g>
<text class="itk" x="796.6" y="768">0</text>
<text class="itk" x="868.2" y="768">100</text>
<text class="itk" x="939.8" y="768">200</text>
<text class="itk" x="1011.4" y="768">300</text>
<text class="itk" x="1083.0" y="768">400</text>
<text class="itk" x="1154.6" y="768">500</text>
<text class="itk" x="1226.2" y="768">600</text>
<text class="itk" x="1297.8" y="768">700</text>
<text class="itk" text-anchor="end" x="771.5" y="741.8">0</text>
<text class="itk" text-anchor="end" x="784.5" y="676.3">1.0</text>
<text class="itk" text-anchor="end" x="784.5" y="610.8">2.0</text>
<text class="itk" text-anchor="end" x="784.5" y="545.3">3.0</text>
<text class="itk" text-anchor="end" x="784.5" y="479.8">4.0</text>
<text class="itk" text-anchor="end" x="784.5" y="414.3">5.0</text>
<text class="itk" text-anchor="end" x="784.5" y="348.8">6.0</text>
<text class="itk" text-anchor="end" x="784.5" y="283.3">7.0</text>
<text x="726.5" y="231" font-size="14.5" fill="#111">E2</text>
<text transform="translate(745 484.7) rotate(-90)" font-size="24.5" fill="#111" text-anchor="middle">Intensity (a.u.)</text>
<text x="1184" y="797" font-size="21.5" fill="#111" text-anchor="middle">Size (nm)</text>
</g>
<g id="stats">
<text class="st" x="711" y="884">D90:</text>
<text class="st" x="711" y="930">Concentration:</text>
<text class="st" x="1073.5" y="883.5">319.5 +/- 20.4 nm</text>
<text class="st" x="1073.5" y="930">7.95e+007 +/- 1.56e+007 particles/ml</text>
<text class="st" x="1073.5" y="976.5">4.0 +/- 0.8 particles/frame</text>
<text class="st" x="1073.5" y="1021.5">5.2 +/- 1.2 centres/frame</text>
<rect x="1059" y="938" width="171" height="14" fill="#dd1616"/>
</g>
<defs><filter id="ol" x="1020" y="755" width="600" height="160" filterUnits="userSpaceOnUse" color-interpolation-filters="sRGB">
<feMorphology in="SourceAlpha" operator="dilate" radius="5.2" result="d"/>
<feGaussianBlur in="d" stdDeviation="1.6" result="b"/>
<feComponentTransfer in="b" result="t"><feFuncA type="linear" slope="9" intercept="-4"/></feComponentTransfer>
<feFlood flood-color="#dc1515" result="c"/>
<feComposite in="c" in2="t" operator="in" result="o"/>
<feGaussianBlur in="d" stdDeviation="3.5" result="g0"/>
<feFlood flood-color="#ff7a7a" flood-opacity="0.38" result="gc"/>
<feComposite in="gc" in2="g0" operator="in" result="g"/>
<feMerge><feMergeNode in="g"/><feMergeNode in="o"/><feMergeNode in="SourceGraphic"/></feMerge>
</filter></defs>
<g id="banner" filter="url(#ol)" class="jp" font-weight="900" font-size="100" stroke-linejoin="round" fill="#fff" stroke="#fff">
<title>700億個/1L</title>
<text class="jp" stroke-width="5" transform="translate(1037.5 876.5) skewX(-5) scale(0.9 1.239)">7</text>
<text class="jp" stroke-width="5" transform="translate(1101.5 876.5) skewX(-5) scale(0.764 1.2)">0</text>
<text class="jp" stroke-width="5" transform="translate(1155.5 876.5) skewX(-5) scale(0.781 1.2)">0</text>
<text class="jp" stroke-width="2" transform="translate(1210.5 874.5) skewX(-5) scale(1.05 1.096)">億</text>
<text class="jp" stroke-width="2.5" transform="translate(1324.5 871.5) skewX(-5) scale(0.92 1.026)">個</text>
<text class="jp" stroke-width="7" transform="translate(1430.0 859.5) skewX(-5) scale(0.981 0.91)">/</text>
<text class="jp" stroke-width="5" transform="translate(1478.0 876.5) skewX(-5) scale(0.791 1.226)">1</text>
<text class="jp" stroke-width="5" transform="translate(1528.5 876.5) skewX(-5) scale(0.9 1.2)">L</text>
</g>
<g id="title" class="jp" font-weight="300" font-size="103" stroke-linejoin="round" stroke-linecap="round">
<title>キッチン用 ストレート</title>
<text class="jp" transform="translate(108.0 154.7) scale(0.99 1.019)" fill="#000" stroke="#000" stroke-width="24.5">キ</text>
<text class="jp" transform="translate(108.0 154.7) scale(0.99 1.019)" fill="#fff" stroke="#fff" stroke-width="10.5">キ</text>
<text class="jp" transform="translate(207.3 150.2) scale(0.956 0.989)" fill="#000" stroke="#000" stroke-width="24.5">ッ</text>
<text class="jp" transform="translate(207.3 150.2) scale(0.956 0.989)" fill="#fff" stroke="#fff" stroke-width="10.5">ッ</text>
<text class="jp" transform="translate(306.0 151.5) scale(0.991 1.028)" fill="#000" stroke="#000" stroke-width="24.5">チ</text>
<text class="jp" transform="translate(306.0 151.5) scale(0.991 1.028)" fill="#fff" stroke="#fff" stroke-width="10.5">チ</text>
<text class="jp" transform="translate(411.2 148.7) scale(0.961 0.949)" fill="#000" stroke="#000" stroke-width="24.5">ン</text>
<text class="jp" transform="translate(411.2 148.7) scale(0.961 0.949)" fill="#fff" stroke="#fff" stroke-width="10.5">ン</text>
<text class="jp" transform="translate(522.9 151.2) scale(0.982 0.991)" fill="#000" stroke="#000" stroke-width="24.5">用</text>
<text class="jp" transform="translate(522.9 151.2) scale(0.982 0.991)" fill="#fff" stroke="#fff" stroke-width="10.5">用</text>
<text class="jp" transform="translate(105.0 269.4) scale(1.01 0.969)" fill="#000" stroke="#000" stroke-width="24.5">ス</text>
<text class="jp" transform="translate(105.0 269.4) scale(1.01 0.969)" fill="#fff" stroke="#fff" stroke-width="10.5">ス</text>
<text class="jp" transform="translate(195.6 276.3) scale(0.973 1.048)" fill="#000" stroke="#000" stroke-width="24.5">ト</text>
<text class="jp" transform="translate(195.6 276.3) scale(0.973 1.048)" fill="#fff" stroke="#fff" stroke-width="10.5">ト</text>
<text class="jp" transform="translate(390.0 273.7) scale(1.029 1.067)" fill="#000" stroke="#000" stroke-width="24.5">ー</text>
<text class="jp" transform="translate(390.0 273.7) scale(1.029 1.067)" fill="#fff" stroke="#fff" stroke-width="10.5">ー</text>
<text class="jp" transform="translate(284.7 271.2) scale(1.022 0.98)" fill="#000" stroke="#000" stroke-width="24.5">レ</text>
<text class="jp" transform="translate(284.7 271.2) scale(1.022 0.98)" fill="#fff" stroke="#fff" stroke-width="10.5">レ</text>
<text class="jp" transform="translate(483.9 276.3) scale(0.96 1.048)" fill="#000" stroke="#000" stroke-width="24.5">ト</text>
<text class="jp" transform="translate(483.9 276.3) scale(0.96 1.048)" fill="#fff" stroke="#fff" stroke-width="10.5">ト</text>
</g>
</svg></body></html>
